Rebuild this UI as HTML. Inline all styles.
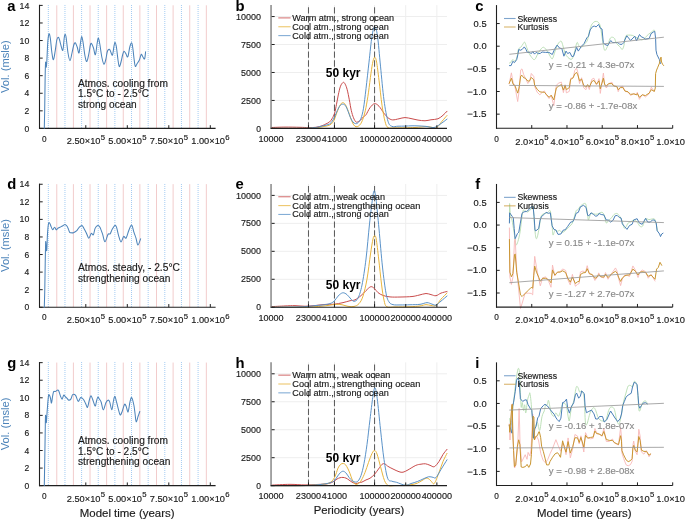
<!DOCTYPE html>
<html><head><meta charset="utf-8"><title>Figure</title>
<style>
html,body{margin:0;padding:0;background:#fff;width:685px;height:519px;overflow:hidden}
svg{display:block;will-change:transform}
text{font-family:"Liberation Sans", sans-serif}
</style></head>
<body>
<svg width="685" height="519" viewBox="0 0 685 519">
<rect width="685" height="519" fill="#fff"/>
<line x1="56.78" y1="5.3" x2="56.78" y2="128.4" stroke="#f2cccc" stroke-width="1"/>
<line x1="73.4" y1="5.3" x2="73.4" y2="128.4" stroke="#f2cccc" stroke-width="1"/>
<line x1="90.02" y1="5.3" x2="90.02" y2="128.4" stroke="#f2cccc" stroke-width="1"/>
<line x1="106.63" y1="5.3" x2="106.63" y2="128.4" stroke="#f2cccc" stroke-width="1"/>
<line x1="123.25" y1="5.3" x2="123.25" y2="128.4" stroke="#f2cccc" stroke-width="1"/>
<line x1="139.87" y1="5.3" x2="139.87" y2="128.4" stroke="#f2cccc" stroke-width="1"/>
<line x1="156.49" y1="5.3" x2="156.49" y2="128.4" stroke="#f2cccc" stroke-width="1"/>
<line x1="173.11" y1="5.3" x2="173.11" y2="128.4" stroke="#f2cccc" stroke-width="1"/>
<line x1="189.72" y1="5.3" x2="189.72" y2="128.4" stroke="#f2cccc" stroke-width="1"/>
<line x1="206.34" y1="5.3" x2="206.34" y2="128.4" stroke="#f2cccc" stroke-width="1"/>
<line x1="48.32" y1="5" x2="48.32" y2="128.4" stroke="#a4ccf2" stroke-width="1" stroke-dasharray="1 1"/>
<line x1="64.96" y1="5" x2="64.96" y2="128.4" stroke="#a4ccf2" stroke-width="1" stroke-dasharray="1 1"/>
<line x1="81.6" y1="5" x2="81.6" y2="128.4" stroke="#a4ccf2" stroke-width="1" stroke-dasharray="1 1"/>
<line x1="98.24" y1="5" x2="98.24" y2="128.4" stroke="#a4ccf2" stroke-width="1" stroke-dasharray="1 1"/>
<line x1="114.88" y1="5" x2="114.88" y2="128.4" stroke="#a4ccf2" stroke-width="1" stroke-dasharray="1 1"/>
<line x1="131.52" y1="5" x2="131.52" y2="128.4" stroke="#a4ccf2" stroke-width="1" stroke-dasharray="1 1"/>
<line x1="148.16" y1="5" x2="148.16" y2="128.4" stroke="#a4ccf2" stroke-width="1" stroke-dasharray="1 1"/>
<line x1="164.8" y1="5" x2="164.8" y2="128.4" stroke="#a4ccf2" stroke-width="1" stroke-dasharray="1 1"/>
<line x1="181.44" y1="5" x2="181.44" y2="128.4" stroke="#a4ccf2" stroke-width="1" stroke-dasharray="1 1"/>
<line x1="198.08" y1="5" x2="198.08" y2="128.4" stroke="#a4ccf2" stroke-width="1" stroke-dasharray="1 1"/>
<line x1="39.5" y1="4.8" x2="39.5" y2="128.9" stroke="#1f1f1f" stroke-width="1.1"/>
<line x1="39" y1="128.4" x2="215.6" y2="128.4" stroke="#1f1f1f" stroke-width="1.1"/>
<line x1="39.5" y1="128.4" x2="42.7" y2="128.4" stroke="#1f1f1f" stroke-width="1"/>
<text x="29.3" y="131.5" font-size="9" text-anchor="end" fill="#1a1a1a" textLength="4.75" lengthAdjust="spacingAndGlyphs" stroke="#1a1a1a" stroke-width="0.15">0</text>
<line x1="39.5" y1="110.83" x2="42.7" y2="110.83" stroke="#1f1f1f" stroke-width="1"/>
<text x="29.3" y="113.93" font-size="9" text-anchor="end" fill="#1a1a1a" textLength="4.75" lengthAdjust="spacingAndGlyphs" stroke="#1a1a1a" stroke-width="0.15">2</text>
<line x1="39.5" y1="93.26" x2="42.7" y2="93.26" stroke="#1f1f1f" stroke-width="1"/>
<text x="29.3" y="96.36" font-size="9" text-anchor="end" fill="#1a1a1a" textLength="4.75" lengthAdjust="spacingAndGlyphs" stroke="#1a1a1a" stroke-width="0.15">4</text>
<line x1="39.5" y1="75.68" x2="42.7" y2="75.68" stroke="#1f1f1f" stroke-width="1"/>
<text x="29.3" y="78.78" font-size="9" text-anchor="end" fill="#1a1a1a" textLength="4.75" lengthAdjust="spacingAndGlyphs" stroke="#1a1a1a" stroke-width="0.15">6</text>
<line x1="39.5" y1="58.11" x2="42.7" y2="58.11" stroke="#1f1f1f" stroke-width="1"/>
<text x="29.3" y="61.21" font-size="9" text-anchor="end" fill="#1a1a1a" textLength="4.75" lengthAdjust="spacingAndGlyphs" stroke="#1a1a1a" stroke-width="0.15">8</text>
<line x1="39.5" y1="40.54" x2="42.7" y2="40.54" stroke="#1f1f1f" stroke-width="1"/>
<text x="29.3" y="43.64" font-size="9" text-anchor="end" fill="#1a1a1a" textLength="9.8" lengthAdjust="spacingAndGlyphs" stroke="#1a1a1a" stroke-width="0.15">10</text>
<line x1="39.5" y1="22.97" x2="42.7" y2="22.97" stroke="#1f1f1f" stroke-width="1"/>
<text x="29.3" y="26.07" font-size="9" text-anchor="end" fill="#1a1a1a" textLength="9.8" lengthAdjust="spacingAndGlyphs" stroke="#1a1a1a" stroke-width="0.15">12</text>
<line x1="39.5" y1="5.4" x2="42.7" y2="5.4" stroke="#1f1f1f" stroke-width="1"/>
<text x="29.3" y="8.5" font-size="9" text-anchor="end" fill="#1a1a1a" textLength="9.8" lengthAdjust="spacingAndGlyphs" stroke="#1a1a1a" stroke-width="0.15">14</text>
<line x1="85.8" y1="128.4" x2="85.8" y2="125.2" stroke="#1f1f1f" stroke-width="1"/>
<line x1="127.3" y1="128.4" x2="127.3" y2="125.2" stroke="#1f1f1f" stroke-width="1"/>
<line x1="168.8" y1="128.4" x2="168.8" y2="125.2" stroke="#1f1f1f" stroke-width="1"/>
<line x1="210.3" y1="128.4" x2="210.3" y2="125.2" stroke="#1f1f1f" stroke-width="1"/>
<text x="44.3" y="141.6" font-size="9" text-anchor="middle" fill="#1a1a1a" textLength="4.6" lengthAdjust="spacingAndGlyphs" stroke="#1a1a1a" stroke-width="0.15">0</text>
<text x="66.75" y="144.3" font-size="9" fill="#1a1a1a" textLength="33.7" lengthAdjust="spacingAndGlyphs" stroke="#1a1a1a" stroke-width="0.15">2.50×10</text>
<text x="100.75" y="139.8" font-size="7.2" fill="#1a1a1a" textLength="4.3" lengthAdjust="spacingAndGlyphs" stroke="#1a1a1a" stroke-width="0.15">5</text>
<text x="108.25" y="144.3" font-size="9" fill="#1a1a1a" textLength="33.7" lengthAdjust="spacingAndGlyphs" stroke="#1a1a1a" stroke-width="0.15">5.00×10</text>
<text x="142.25" y="139.8" font-size="7.2" fill="#1a1a1a" textLength="4.3" lengthAdjust="spacingAndGlyphs" stroke="#1a1a1a" stroke-width="0.15">5</text>
<text x="149.75" y="144.3" font-size="9" fill="#1a1a1a" textLength="33.7" lengthAdjust="spacingAndGlyphs" stroke="#1a1a1a" stroke-width="0.15">7.50×10</text>
<text x="183.75" y="139.8" font-size="7.2" fill="#1a1a1a" textLength="4.3" lengthAdjust="spacingAndGlyphs" stroke="#1a1a1a" stroke-width="0.15">5</text>
<text x="191.25" y="144.3" font-size="9" fill="#1a1a1a" textLength="33.7" lengthAdjust="spacingAndGlyphs" stroke="#1a1a1a" stroke-width="0.15">1.00×10</text>
<text x="225.25" y="139.8" font-size="7.2" fill="#1a1a1a" textLength="4.3" lengthAdjust="spacingAndGlyphs" stroke="#1a1a1a" stroke-width="0.15">6</text>
<text transform="translate(8.6,66.7) rotate(-90)" font-size="10.6" text-anchor="middle" fill="#4d84ba" textLength="52.8" lengthAdjust="spacingAndGlyphs">Vol. (msle)</text>
<path d="M44.3,128.3C44.37,125.25 44.57,118.05 44.7,110C44.83,101.95 44.97,87.75 45.1,80C45.23,72.25 45.37,66.23 45.5,63.5C45.63,60.77 45.77,62.98 45.9,63.6C46.03,64.22 46.13,67.8 46.3,67.2C46.47,66.6 46.65,64.2 46.9,60C47.15,55.8 47.45,46.35 47.8,42C48.15,37.65 48.58,34.57 49,33.9C49.42,33.23 49.83,34.98 50.3,38C50.77,41.02 51.28,48.37 51.8,52C52.32,55.63 52.83,59.97 53.4,59.8C53.97,59.63 54.63,54.3 55.2,51C55.77,47.7 56.27,42.28 56.8,40C57.33,37.72 57.93,37.3 58.4,37.3C58.87,37.3 59.25,38.93 59.6,40C59.95,41.07 59.97,41.97 60.5,43.7C61.03,45.43 62.18,51.35 62.8,50.4C63.42,49.45 63.82,40.68 64.2,38C64.58,35.32 64.77,34.3 65.1,34.3C65.43,34.3 65.72,34.88 66.2,38C66.68,41.12 67.37,49.23 68,53C68.63,56.77 69.33,60.6 70,60.6C70.67,60.6 71.37,55.6 72,53C72.63,50.4 73.25,46.7 73.8,45C74.35,43.3 74.73,42.47 75.3,42.8C75.87,43.13 76.58,45.3 77.2,47C77.82,48.7 78.43,53.83 79,53C79.57,52.17 80.15,44.75 80.6,42C81.05,39.25 81.3,36.5 81.7,36.5C82.1,36.5 82.45,38.75 83,42C83.55,45.25 84.37,52.75 85,56C85.63,59.25 86.17,61.83 86.8,61.5C87.43,61.17 88.2,56.75 88.8,54C89.4,51.25 89.93,46.73 90.4,45C90.87,43.27 91.08,43.1 91.6,43.6C92.12,44.1 92.87,46.15 93.5,48C94.13,49.85 94.78,55.53 95.4,54.7C96.02,53.87 96.7,45.77 97.2,43C97.7,40.23 97.97,37.93 98.4,38.1C98.83,38.27 99.23,40.85 99.8,44C100.37,47.15 101.12,53.63 101.8,57C102.48,60.37 103.23,63.78 103.9,64.2C104.57,64.62 105.25,61.53 105.8,59.5C106.35,57.47 106.73,53.67 107.2,52C107.67,50.33 108.13,49.83 108.6,49.5C109.07,49.17 109.37,49.07 110,50C110.63,50.93 111.73,55.77 112.4,55.1C113.07,54.43 113.55,48.12 114,46C114.45,43.88 114.7,42.23 115.1,42.4C115.5,42.57 115.92,44.07 116.4,47C116.88,49.93 117.52,56.73 118,60C118.48,63.27 118.8,66.27 119.3,66.6C119.8,66.93 120.45,63.93 121,62C121.55,60.07 122.1,56.78 122.6,55C123.1,53.22 123.47,51.55 124,51.3C124.53,51.05 125.17,52.58 125.8,53.5C126.43,54.42 127.13,57.88 127.8,56.8C128.47,55.72 129.17,49.33 129.8,47C130.43,44.67 131.1,42.63 131.6,42.8C132.1,42.97 132.37,45.13 132.8,48C133.23,50.87 133.78,56.93 134.2,60C134.62,63.07 134.8,65.82 135.3,66.4C135.8,66.98 136.5,64.6 137.2,63.5C137.9,62.4 138.83,61.33 139.5,59.8C140.17,58.27 140.65,54.8 141.2,54.3C141.75,53.8 142.23,56.03 142.8,56.8C143.37,57.57 144.13,59.75 144.6,58.9C145.07,58.05 145.43,52.9 145.6,51.7" fill="none" stroke="#4d84ba" stroke-width="1.05" stroke-linejoin="round" stroke-linecap="round"/>
<text x="78" y="86.6" font-size="10" fill="#1a1a1a" textLength="90" lengthAdjust="spacingAndGlyphs" stroke="#1a1a1a" stroke-width="0.15">Atmos. cooling from</text>
<text x="78" y="97.3" font-size="10" fill="#1a1a1a" textLength="71" lengthAdjust="spacingAndGlyphs" stroke="#1a1a1a" stroke-width="0.15">1.5°C to - 2.5°C</text>
<text x="78" y="108" font-size="10" fill="#1a1a1a" textLength="58.7" lengthAdjust="spacingAndGlyphs" stroke="#1a1a1a" stroke-width="0.15">strong ocean</text>
<line x1="56.78" y1="184.15" x2="56.78" y2="307.25" stroke="#f2cccc" stroke-width="1"/>
<line x1="73.4" y1="184.15" x2="73.4" y2="307.25" stroke="#f2cccc" stroke-width="1"/>
<line x1="90.02" y1="184.15" x2="90.02" y2="307.25" stroke="#f2cccc" stroke-width="1"/>
<line x1="106.63" y1="184.15" x2="106.63" y2="307.25" stroke="#f2cccc" stroke-width="1"/>
<line x1="123.25" y1="184.15" x2="123.25" y2="307.25" stroke="#f2cccc" stroke-width="1"/>
<line x1="139.87" y1="184.15" x2="139.87" y2="307.25" stroke="#f2cccc" stroke-width="1"/>
<line x1="156.49" y1="184.15" x2="156.49" y2="307.25" stroke="#f2cccc" stroke-width="1"/>
<line x1="173.11" y1="184.15" x2="173.11" y2="307.25" stroke="#f2cccc" stroke-width="1"/>
<line x1="189.72" y1="184.15" x2="189.72" y2="307.25" stroke="#f2cccc" stroke-width="1"/>
<line x1="206.34" y1="184.15" x2="206.34" y2="307.25" stroke="#f2cccc" stroke-width="1"/>
<line x1="48.32" y1="184" x2="48.32" y2="307.25" stroke="#a4ccf2" stroke-width="1" stroke-dasharray="1 1"/>
<line x1="64.96" y1="184" x2="64.96" y2="307.25" stroke="#a4ccf2" stroke-width="1" stroke-dasharray="1 1"/>
<line x1="81.6" y1="184" x2="81.6" y2="307.25" stroke="#a4ccf2" stroke-width="1" stroke-dasharray="1 1"/>
<line x1="98.24" y1="184" x2="98.24" y2="307.25" stroke="#a4ccf2" stroke-width="1" stroke-dasharray="1 1"/>
<line x1="114.88" y1="184" x2="114.88" y2="307.25" stroke="#a4ccf2" stroke-width="1" stroke-dasharray="1 1"/>
<line x1="131.52" y1="184" x2="131.52" y2="307.25" stroke="#a4ccf2" stroke-width="1" stroke-dasharray="1 1"/>
<line x1="148.16" y1="184" x2="148.16" y2="307.25" stroke="#a4ccf2" stroke-width="1" stroke-dasharray="1 1"/>
<line x1="164.8" y1="184" x2="164.8" y2="307.25" stroke="#a4ccf2" stroke-width="1" stroke-dasharray="1 1"/>
<line x1="181.44" y1="184" x2="181.44" y2="307.25" stroke="#a4ccf2" stroke-width="1" stroke-dasharray="1 1"/>
<line x1="198.08" y1="184" x2="198.08" y2="307.25" stroke="#a4ccf2" stroke-width="1" stroke-dasharray="1 1"/>
<line x1="39.5" y1="183.65" x2="39.5" y2="307.75" stroke="#1f1f1f" stroke-width="1.1"/>
<line x1="39" y1="307.25" x2="215.6" y2="307.25" stroke="#1f1f1f" stroke-width="1.1"/>
<line x1="39.5" y1="307.25" x2="42.7" y2="307.25" stroke="#1f1f1f" stroke-width="1"/>
<text x="29.3" y="310.35" font-size="9" text-anchor="end" fill="#1a1a1a" textLength="4.75" lengthAdjust="spacingAndGlyphs" stroke="#1a1a1a" stroke-width="0.15">0</text>
<line x1="39.5" y1="289.68" x2="42.7" y2="289.68" stroke="#1f1f1f" stroke-width="1"/>
<text x="29.3" y="292.78" font-size="9" text-anchor="end" fill="#1a1a1a" textLength="4.75" lengthAdjust="spacingAndGlyphs" stroke="#1a1a1a" stroke-width="0.15">2</text>
<line x1="39.5" y1="272.11" x2="42.7" y2="272.11" stroke="#1f1f1f" stroke-width="1"/>
<text x="29.3" y="275.21" font-size="9" text-anchor="end" fill="#1a1a1a" textLength="4.75" lengthAdjust="spacingAndGlyphs" stroke="#1a1a1a" stroke-width="0.15">4</text>
<line x1="39.5" y1="254.53" x2="42.7" y2="254.53" stroke="#1f1f1f" stroke-width="1"/>
<text x="29.3" y="257.63" font-size="9" text-anchor="end" fill="#1a1a1a" textLength="4.75" lengthAdjust="spacingAndGlyphs" stroke="#1a1a1a" stroke-width="0.15">6</text>
<line x1="39.5" y1="236.96" x2="42.7" y2="236.96" stroke="#1f1f1f" stroke-width="1"/>
<text x="29.3" y="240.06" font-size="9" text-anchor="end" fill="#1a1a1a" textLength="4.75" lengthAdjust="spacingAndGlyphs" stroke="#1a1a1a" stroke-width="0.15">8</text>
<line x1="39.5" y1="219.39" x2="42.7" y2="219.39" stroke="#1f1f1f" stroke-width="1"/>
<text x="29.3" y="222.49" font-size="9" text-anchor="end" fill="#1a1a1a" textLength="9.8" lengthAdjust="spacingAndGlyphs" stroke="#1a1a1a" stroke-width="0.15">10</text>
<line x1="39.5" y1="201.82" x2="42.7" y2="201.82" stroke="#1f1f1f" stroke-width="1"/>
<text x="29.3" y="204.92" font-size="9" text-anchor="end" fill="#1a1a1a" textLength="9.8" lengthAdjust="spacingAndGlyphs" stroke="#1a1a1a" stroke-width="0.15">12</text>
<line x1="39.5" y1="184.25" x2="42.7" y2="184.25" stroke="#1f1f1f" stroke-width="1"/>
<text x="29.3" y="187.35" font-size="9" text-anchor="end" fill="#1a1a1a" textLength="9.8" lengthAdjust="spacingAndGlyphs" stroke="#1a1a1a" stroke-width="0.15">14</text>
<line x1="85.8" y1="307.25" x2="85.8" y2="304.05" stroke="#1f1f1f" stroke-width="1"/>
<line x1="127.3" y1="307.25" x2="127.3" y2="304.05" stroke="#1f1f1f" stroke-width="1"/>
<line x1="168.8" y1="307.25" x2="168.8" y2="304.05" stroke="#1f1f1f" stroke-width="1"/>
<line x1="210.3" y1="307.25" x2="210.3" y2="304.05" stroke="#1f1f1f" stroke-width="1"/>
<text x="44.3" y="320.45" font-size="9" text-anchor="middle" fill="#1a1a1a" textLength="4.6" lengthAdjust="spacingAndGlyphs" stroke="#1a1a1a" stroke-width="0.15">0</text>
<text x="66.75" y="323.15" font-size="9" fill="#1a1a1a" textLength="33.7" lengthAdjust="spacingAndGlyphs" stroke="#1a1a1a" stroke-width="0.15">2.50×10</text>
<text x="100.75" y="318.65" font-size="7.2" fill="#1a1a1a" textLength="4.3" lengthAdjust="spacingAndGlyphs" stroke="#1a1a1a" stroke-width="0.15">5</text>
<text x="108.25" y="323.15" font-size="9" fill="#1a1a1a" textLength="33.7" lengthAdjust="spacingAndGlyphs" stroke="#1a1a1a" stroke-width="0.15">5.00×10</text>
<text x="142.25" y="318.65" font-size="7.2" fill="#1a1a1a" textLength="4.3" lengthAdjust="spacingAndGlyphs" stroke="#1a1a1a" stroke-width="0.15">5</text>
<text x="149.75" y="323.15" font-size="9" fill="#1a1a1a" textLength="33.7" lengthAdjust="spacingAndGlyphs" stroke="#1a1a1a" stroke-width="0.15">7.50×10</text>
<text x="183.75" y="318.65" font-size="7.2" fill="#1a1a1a" textLength="4.3" lengthAdjust="spacingAndGlyphs" stroke="#1a1a1a" stroke-width="0.15">5</text>
<text x="191.25" y="323.15" font-size="9" fill="#1a1a1a" textLength="33.7" lengthAdjust="spacingAndGlyphs" stroke="#1a1a1a" stroke-width="0.15">1.00×10</text>
<text x="225.25" y="318.65" font-size="7.2" fill="#1a1a1a" textLength="4.3" lengthAdjust="spacingAndGlyphs" stroke="#1a1a1a" stroke-width="0.15">6</text>
<text transform="translate(8.6,245.55) rotate(-90)" font-size="10.6" text-anchor="middle" fill="#4d84ba" textLength="52.8" lengthAdjust="spacingAndGlyphs">Vol. (msle)</text>
<path d="M44.3,307.15C44.38,304.1 44.65,296.07 44.8,288.85C44.95,281.63 45.07,271.35 45.2,263.85C45.33,256.35 45.5,247.43 45.6,243.85C45.7,240.27 45.7,241.68 45.8,242.35C45.9,243.02 46.03,246.6 46.2,247.85C46.37,249.1 46.58,252.18 46.8,249.85C47.02,247.52 47.22,238.2 47.5,233.85C47.78,229.5 48.12,225.52 48.5,223.75C48.88,221.98 49.3,222.73 49.75,223.25C50.2,223.77 50.71,225.78 51.2,226.85C51.69,227.92 52.13,229.6 52.7,229.65C53.27,229.7 54,227.12 54.6,227.15C55.2,227.18 55.7,229.72 56.3,229.85C56.9,229.98 57.38,228.48 58.2,227.95C59.02,227.42 60.32,227.08 61.2,226.65C62.08,226.22 62.87,225.7 63.5,225.35C64.13,225 64.4,224.4 65,224.55C65.6,224.7 66.52,225.45 67.1,226.25C67.68,227.05 68.07,228.33 68.5,229.35C68.93,230.37 69.2,231.77 69.7,232.35C70.2,232.93 70.87,232.8 71.5,232.85C72.13,232.9 72.67,232.97 73.5,232.65C74.33,232.33 75.58,231.8 76.5,230.95C77.42,230.1 78.08,228.47 79,227.55C79.92,226.63 81.15,225.23 82,225.45C82.85,225.67 83.4,227.65 84.1,228.85C84.8,230.05 85.42,231.1 86.2,232.65C86.98,234.2 87.95,238.02 88.8,238.15C89.65,238.28 90.53,234.02 91.3,233.45C92.07,232.88 92.77,235.6 93.4,234.75C94.03,233.9 94.37,229.9 95.1,228.35C95.83,226.8 97,225.65 97.8,225.45C98.6,225.25 99.12,225.75 99.9,227.15C100.68,228.55 101.65,231.42 102.5,233.85C103.35,236.28 104.08,241.67 105,241.75C105.92,241.83 107.15,235.67 108,234.35C108.85,233.03 109.4,234.7 110.1,233.85C110.8,233 111.42,230.65 112.2,229.25C112.98,227.85 114.08,225.8 114.8,225.45C115.52,225.1 115.87,225.47 116.5,227.15C117.13,228.83 117.85,233.08 118.6,235.55C119.35,238.02 120.15,241.8 121,241.95C121.85,242.1 122.85,237.08 123.7,236.45C124.55,235.82 125.25,239.13 126.1,238.15C126.95,237.17 127.88,232.75 128.8,230.55C129.72,228.35 130.75,224.68 131.6,224.95C132.45,225.22 133.17,229.95 133.9,232.15C134.63,234.35 135.33,236 136,238.15C136.67,240.3 137.13,244.93 137.9,245.05C138.67,245.17 140.15,239.88 140.6,238.85" fill="none" stroke="#4d84ba" stroke-width="1.05" stroke-linejoin="round" stroke-linecap="round"/>
<text x="78" y="270.85" font-size="10" fill="#1a1a1a" textLength="101.9" lengthAdjust="spacingAndGlyphs" stroke="#1a1a1a" stroke-width="0.15">Atmos. steady, - 2.5°C</text>
<text x="78" y="281.55" font-size="10" fill="#1a1a1a" textLength="92.4" lengthAdjust="spacingAndGlyphs" stroke="#1a1a1a" stroke-width="0.15">strengthening ocean</text>
<line x1="56.78" y1="362.55" x2="56.78" y2="485.65" stroke="#f2cccc" stroke-width="1"/>
<line x1="73.4" y1="362.55" x2="73.4" y2="485.65" stroke="#f2cccc" stroke-width="1"/>
<line x1="90.02" y1="362.55" x2="90.02" y2="485.65" stroke="#f2cccc" stroke-width="1"/>
<line x1="106.63" y1="362.55" x2="106.63" y2="485.65" stroke="#f2cccc" stroke-width="1"/>
<line x1="123.25" y1="362.55" x2="123.25" y2="485.65" stroke="#f2cccc" stroke-width="1"/>
<line x1="139.87" y1="362.55" x2="139.87" y2="485.65" stroke="#f2cccc" stroke-width="1"/>
<line x1="156.49" y1="362.55" x2="156.49" y2="485.65" stroke="#f2cccc" stroke-width="1"/>
<line x1="173.11" y1="362.55" x2="173.11" y2="485.65" stroke="#f2cccc" stroke-width="1"/>
<line x1="189.72" y1="362.55" x2="189.72" y2="485.65" stroke="#f2cccc" stroke-width="1"/>
<line x1="206.34" y1="362.55" x2="206.34" y2="485.65" stroke="#f2cccc" stroke-width="1"/>
<line x1="48.32" y1="362" x2="48.32" y2="485.65" stroke="#a4ccf2" stroke-width="1" stroke-dasharray="1 1"/>
<line x1="64.96" y1="362" x2="64.96" y2="485.65" stroke="#a4ccf2" stroke-width="1" stroke-dasharray="1 1"/>
<line x1="81.6" y1="362" x2="81.6" y2="485.65" stroke="#a4ccf2" stroke-width="1" stroke-dasharray="1 1"/>
<line x1="98.24" y1="362" x2="98.24" y2="485.65" stroke="#a4ccf2" stroke-width="1" stroke-dasharray="1 1"/>
<line x1="114.88" y1="362" x2="114.88" y2="485.65" stroke="#a4ccf2" stroke-width="1" stroke-dasharray="1 1"/>
<line x1="131.52" y1="362" x2="131.52" y2="485.65" stroke="#a4ccf2" stroke-width="1" stroke-dasharray="1 1"/>
<line x1="148.16" y1="362" x2="148.16" y2="485.65" stroke="#a4ccf2" stroke-width="1" stroke-dasharray="1 1"/>
<line x1="164.8" y1="362" x2="164.8" y2="485.65" stroke="#a4ccf2" stroke-width="1" stroke-dasharray="1 1"/>
<line x1="181.44" y1="362" x2="181.44" y2="485.65" stroke="#a4ccf2" stroke-width="1" stroke-dasharray="1 1"/>
<line x1="198.08" y1="362" x2="198.08" y2="485.65" stroke="#a4ccf2" stroke-width="1" stroke-dasharray="1 1"/>
<line x1="39.5" y1="362.05" x2="39.5" y2="486.15" stroke="#1f1f1f" stroke-width="1.1"/>
<line x1="39" y1="485.65" x2="215.6" y2="485.65" stroke="#1f1f1f" stroke-width="1.1"/>
<line x1="39.5" y1="485.65" x2="42.7" y2="485.65" stroke="#1f1f1f" stroke-width="1"/>
<text x="29.3" y="488.75" font-size="9" text-anchor="end" fill="#1a1a1a" textLength="4.75" lengthAdjust="spacingAndGlyphs" stroke="#1a1a1a" stroke-width="0.15">0</text>
<line x1="39.5" y1="468.08" x2="42.7" y2="468.08" stroke="#1f1f1f" stroke-width="1"/>
<text x="29.3" y="471.18" font-size="9" text-anchor="end" fill="#1a1a1a" textLength="4.75" lengthAdjust="spacingAndGlyphs" stroke="#1a1a1a" stroke-width="0.15">2</text>
<line x1="39.5" y1="450.51" x2="42.7" y2="450.51" stroke="#1f1f1f" stroke-width="1"/>
<text x="29.3" y="453.61" font-size="9" text-anchor="end" fill="#1a1a1a" textLength="4.75" lengthAdjust="spacingAndGlyphs" stroke="#1a1a1a" stroke-width="0.15">4</text>
<line x1="39.5" y1="432.93" x2="42.7" y2="432.93" stroke="#1f1f1f" stroke-width="1"/>
<text x="29.3" y="436.03" font-size="9" text-anchor="end" fill="#1a1a1a" textLength="4.75" lengthAdjust="spacingAndGlyphs" stroke="#1a1a1a" stroke-width="0.15">6</text>
<line x1="39.5" y1="415.36" x2="42.7" y2="415.36" stroke="#1f1f1f" stroke-width="1"/>
<text x="29.3" y="418.46" font-size="9" text-anchor="end" fill="#1a1a1a" textLength="4.75" lengthAdjust="spacingAndGlyphs" stroke="#1a1a1a" stroke-width="0.15">8</text>
<line x1="39.5" y1="397.79" x2="42.7" y2="397.79" stroke="#1f1f1f" stroke-width="1"/>
<text x="29.3" y="400.89" font-size="9" text-anchor="end" fill="#1a1a1a" textLength="9.8" lengthAdjust="spacingAndGlyphs" stroke="#1a1a1a" stroke-width="0.15">10</text>
<line x1="39.5" y1="380.22" x2="42.7" y2="380.22" stroke="#1f1f1f" stroke-width="1"/>
<text x="29.3" y="383.32" font-size="9" text-anchor="end" fill="#1a1a1a" textLength="9.8" lengthAdjust="spacingAndGlyphs" stroke="#1a1a1a" stroke-width="0.15">12</text>
<line x1="39.5" y1="362.65" x2="42.7" y2="362.65" stroke="#1f1f1f" stroke-width="1"/>
<text x="29.3" y="365.75" font-size="9" text-anchor="end" fill="#1a1a1a" textLength="9.8" lengthAdjust="spacingAndGlyphs" stroke="#1a1a1a" stroke-width="0.15">14</text>
<line x1="85.8" y1="485.65" x2="85.8" y2="482.45" stroke="#1f1f1f" stroke-width="1"/>
<line x1="127.3" y1="485.65" x2="127.3" y2="482.45" stroke="#1f1f1f" stroke-width="1"/>
<line x1="168.8" y1="485.65" x2="168.8" y2="482.45" stroke="#1f1f1f" stroke-width="1"/>
<line x1="210.3" y1="485.65" x2="210.3" y2="482.45" stroke="#1f1f1f" stroke-width="1"/>
<text x="44.3" y="498.85" font-size="9" text-anchor="middle" fill="#1a1a1a" textLength="4.6" lengthAdjust="spacingAndGlyphs" stroke="#1a1a1a" stroke-width="0.15">0</text>
<text x="66.75" y="501.55" font-size="9" fill="#1a1a1a" textLength="33.7" lengthAdjust="spacingAndGlyphs" stroke="#1a1a1a" stroke-width="0.15">2.50×10</text>
<text x="100.75" y="497.05" font-size="7.2" fill="#1a1a1a" textLength="4.3" lengthAdjust="spacingAndGlyphs" stroke="#1a1a1a" stroke-width="0.15">5</text>
<text x="108.25" y="501.55" font-size="9" fill="#1a1a1a" textLength="33.7" lengthAdjust="spacingAndGlyphs" stroke="#1a1a1a" stroke-width="0.15">5.00×10</text>
<text x="142.25" y="497.05" font-size="7.2" fill="#1a1a1a" textLength="4.3" lengthAdjust="spacingAndGlyphs" stroke="#1a1a1a" stroke-width="0.15">5</text>
<text x="149.75" y="501.55" font-size="9" fill="#1a1a1a" textLength="33.7" lengthAdjust="spacingAndGlyphs" stroke="#1a1a1a" stroke-width="0.15">7.50×10</text>
<text x="183.75" y="497.05" font-size="7.2" fill="#1a1a1a" textLength="4.3" lengthAdjust="spacingAndGlyphs" stroke="#1a1a1a" stroke-width="0.15">5</text>
<text x="191.25" y="501.55" font-size="9" fill="#1a1a1a" textLength="33.7" lengthAdjust="spacingAndGlyphs" stroke="#1a1a1a" stroke-width="0.15">1.00×10</text>
<text x="225.25" y="497.05" font-size="7.2" fill="#1a1a1a" textLength="4.3" lengthAdjust="spacingAndGlyphs" stroke="#1a1a1a" stroke-width="0.15">6</text>
<text transform="translate(8.6,423.95) rotate(-90)" font-size="10.6" text-anchor="middle" fill="#4d84ba" textLength="52.8" lengthAdjust="spacingAndGlyphs">Vol. (msle)</text>
<path d="M44.3,485.55C44.38,480.83 44.65,466.13 44.8,457.25C44.95,448.37 45.08,439.15 45.2,432.25C45.32,425.35 45.37,418.02 45.5,415.85C45.63,413.68 45.85,418.2 46,419.25C46.15,420.3 46.18,423.82 46.4,422.15C46.62,420.48 46.95,413.63 47.3,409.25C47.65,404.87 48.13,398.15 48.5,395.85C48.87,393.55 49.17,395.05 49.5,395.45C49.83,395.85 50.17,396.98 50.5,398.25C50.83,399.52 51.15,403.38 51.5,403.05C51.85,402.72 52.25,398.15 52.6,396.25C52.95,394.35 53.15,392.45 53.6,391.65C54.05,390.85 54.67,391.7 55.3,391.45C55.93,391.2 56.83,390.27 57.4,390.15C57.97,390.03 58.2,389.8 58.7,390.75C59.2,391.7 59.83,394.43 60.4,395.85C60.97,397.27 61.55,399.37 62.1,399.25C62.65,399.13 63.15,395.57 63.7,395.15C64.25,394.73 64.83,396.2 65.4,396.75C65.97,397.3 66.53,397.88 67.1,398.45C67.67,399.02 68.15,400.08 68.8,400.15C69.45,400.22 70.35,399.77 71,398.85C71.65,397.93 71.93,395.22 72.7,394.65C73.47,394.08 74.68,394.33 75.6,395.45C76.52,396.57 77.35,401 78.2,401.35C79.05,401.7 79.85,397.9 80.7,397.55C81.55,397.2 82.5,398.3 83.3,399.25C84.1,400.2 84.8,401.9 85.5,403.25C86.2,404.6 86.87,407.85 87.5,407.35C88.13,406.85 88.73,402.17 89.3,400.25C89.87,398.33 90.35,396.02 90.9,395.85C91.45,395.68 91.9,397.55 92.6,399.25C93.3,400.95 94.45,405.72 95.1,406.05C95.75,406.38 96.05,402.73 96.5,401.25C96.95,399.77 97.3,397.48 97.8,397.15C98.3,396.82 98.93,398.4 99.5,399.25C100.07,400.1 100.57,400.48 101.2,402.25C101.83,404.02 102.52,409.78 103.3,409.85C104.08,409.92 105.12,404.27 105.9,402.65C106.68,401.03 107.37,400.28 108,400.15C108.63,400.02 109.07,400.23 109.7,401.85C110.33,403.47 111.18,409.95 111.8,409.85C112.42,409.75 112.9,403.5 113.4,401.25C113.9,399 114.28,396.25 114.8,396.35C115.32,396.45 115.93,399.82 116.5,401.85C117.07,403.88 117.6,406.37 118.2,408.55C118.8,410.73 119.47,414.38 120.1,414.95C120.73,415.52 121.27,413.72 122,411.95C122.73,410.18 123.8,405.27 124.5,404.35C125.2,403.43 125.6,405.2 126.2,406.45C126.8,407.7 127.47,412.62 128.1,411.85C128.73,411.08 129.4,404.23 130,401.85C130.6,399.47 131.05,396.98 131.7,397.55C132.35,398.12 133.35,402.63 133.9,405.25C134.45,407.87 134.62,410.5 135,413.25C135.38,416 135.68,421.25 136.2,421.75C136.72,422.25 137.5,417.95 138.1,416.25C138.7,414.55 139.52,412.33 139.8,411.55" fill="none" stroke="#4d84ba" stroke-width="1.05" stroke-linejoin="round" stroke-linecap="round"/>
<text x="78" y="443.85" font-size="10" fill="#1a1a1a" textLength="90" lengthAdjust="spacingAndGlyphs" stroke="#1a1a1a" stroke-width="0.15">Atmos. cooling from</text>
<text x="78" y="454.55" font-size="10" fill="#1a1a1a" textLength="71" lengthAdjust="spacingAndGlyphs" stroke="#1a1a1a" stroke-width="0.15">1.5°C to - 2.5°C</text>
<text x="78" y="465.25" font-size="10" fill="#1a1a1a" textLength="92.4" lengthAdjust="spacingAndGlyphs" stroke="#1a1a1a" stroke-width="0.15">strengthening ocean</text>
<line x1="271.05" y1="100.44" x2="447" y2="100.44" stroke="#eeeeee" stroke-width="1"/>
<line x1="271.05" y1="72.48" x2="447" y2="72.48" stroke="#eeeeee" stroke-width="1"/>
<line x1="271.05" y1="44.51" x2="447" y2="44.51" stroke="#eeeeee" stroke-width="1"/>
<line x1="271.05" y1="16.55" x2="447" y2="16.55" stroke="#eeeeee" stroke-width="1"/>
<line x1="308.49" y1="5.1" x2="308.49" y2="128.4" stroke="#eeeeee" stroke-width="1"/>
<line x1="334.47" y1="5.1" x2="334.47" y2="128.4" stroke="#eeeeee" stroke-width="1"/>
<line x1="374.55" y1="5.1" x2="374.55" y2="128.4" stroke="#eeeeee" stroke-width="1"/>
<line x1="405.71" y1="5.1" x2="405.71" y2="128.4" stroke="#eeeeee" stroke-width="1"/>
<line x1="436.86" y1="5.1" x2="436.86" y2="128.4" stroke="#eeeeee" stroke-width="1"/>
<path d="M308.49,128.6 V6.6" stroke="#5e5e5e" stroke-width="1.05" stroke-dasharray="6.3 2.55" fill="none"/>
<path d="M334.47,128.6 V6.6" stroke="#5e5e5e" stroke-width="1.05" stroke-dasharray="6.3 2.55" fill="none"/>
<path d="M374.55,128.6 V6.6" stroke="#5e5e5e" stroke-width="1.05" stroke-dasharray="6.3 2.55" fill="none"/>
<path d="M271.1,127.5C273.42,127.43 280.18,127.13 285,127.1C289.82,127.06 296.08,127.21 300,127.3C303.92,127.38 305.83,127.6 308.5,127.6C311.17,127.6 313.75,127.6 316,127.3C318.25,127 320.33,126.36 322,125.79C323.67,125.22 324.75,124.52 326,123.89C327.25,123.25 328.5,122.84 329.5,121.98C330.5,121.13 331.15,120.24 332,118.77C332.85,117.3 333.85,115.58 334.6,113.16C335.35,110.74 335.88,107.28 336.5,104.24C337.12,101.19 337.63,97.92 338.3,94.91C338.97,91.9 339.68,88.28 340.5,86.19C341.32,84.1 342.42,82.71 343.2,82.38C343.98,82.04 344.53,82.96 345.2,84.18C345.87,85.4 346.52,87.11 347.2,89.7C347.88,92.29 348.62,96.25 349.3,99.72C349.98,103.2 350.6,107.54 351.3,110.55C352,113.56 352.72,115.87 353.5,117.77C354.28,119.68 355.17,121.36 356,121.98C356.83,122.6 357.72,121.82 358.5,121.48C359.28,121.15 359.87,120.76 360.7,119.98C361.53,119.19 362.62,117.64 363.5,116.77C364.38,115.9 364.92,116.27 366,114.76C367.08,113.26 368.58,109.6 370,107.74C371.42,105.89 373,103.88 374.5,103.63C376,103.38 377.42,104.64 379,106.24C380.58,107.84 382.5,111.34 384,113.26C385.5,115.18 386.58,116.67 388,117.77C389.42,118.87 390.67,119.71 392.5,119.88C394.33,120.04 396.92,119.16 399,118.77C401.08,118.39 402.83,117.57 405,117.57C407.17,117.57 409.83,118.36 412,118.77C414.17,119.19 415.83,119.74 418,120.08C420.17,120.41 422.83,120.83 425,120.78C427.17,120.73 428.83,120.11 431,119.78C433.17,119.44 436,119.53 438,118.77C440,118.02 441.5,116.52 443,115.26C444.5,114.01 446.33,111.92 447,111.25" fill="none" stroke="#c94b4b" stroke-width="1" stroke-linejoin="round" stroke-linecap="round"/>
<path d="M271.1,128.4C275.92,128.4 293.18,128.45 300,128.4C306.82,128.35 309,128.23 312,128.1C315,127.97 316,127.87 318,127.6C320,127.33 322.08,126.9 324,126.49C325.92,126.09 328.08,125.84 329.5,125.19C330.92,124.54 331.65,123.64 332.5,122.58C333.35,121.53 333.85,120.6 334.6,118.87C335.35,117.15 336.18,114.36 337,112.26C337.82,110.15 338.75,107.74 339.5,106.24C340.25,104.74 340.95,103.82 341.5,103.23C342.05,102.65 342.3,102.7 342.8,102.73C343.3,102.76 343.88,102.76 344.5,103.43C345.12,104.1 345.75,105.1 346.5,106.74C347.25,108.38 348.17,111 349,113.26C349.83,115.52 350.72,118.34 351.5,120.28C352.28,122.22 352.95,123.82 353.7,124.89C354.45,125.96 355.2,126.49 356,126.7C356.8,126.9 357.67,126.66 358.5,126.09C359.33,125.53 360.17,124.76 361,123.29C361.83,121.82 362.67,119.91 363.5,117.27C364.33,114.63 365.17,111.62 366,107.44C366.83,103.27 367.67,97.92 368.5,92.2C369.33,86.49 370.25,78.33 371,73.15C371.75,67.97 372.37,63.76 373,61.12C373.63,58.48 374.2,57.14 374.8,57.31C375.4,57.48 375.9,58.31 376.6,62.12C377.3,65.93 378.1,72.98 379,80.17C379.9,87.36 381,98.39 382,105.24C383,112.09 384,117.55 385,121.28C386,125.01 386.33,126.49 388,127.6C389.67,128.7 392.17,127.87 395,127.9C397.83,127.93 401.67,127.87 405,127.8C408.33,127.73 412.17,127.65 415,127.5C417.83,127.35 419.83,127.05 422,126.9C424.17,126.75 426.17,126.48 428,126.6C429.83,126.71 431.5,127.45 433,127.6C434.5,127.75 435.5,128.55 437,127.5C438.5,126.44 440.33,123.29 442,121.28C443.67,119.28 446.17,116.43 447,115.47" fill="none" stroke="#e8b53c" stroke-width="1" stroke-linejoin="round" stroke-linecap="round"/>
<path d="M271.1,128.4C275.92,128.4 293.18,128.48 300,128.4C306.82,128.32 309,128.12 312,127.9C315,127.68 316,127.48 318,127.1C320,126.71 322.08,126.09 324,125.59C325.92,125.09 328.12,124.84 329.5,124.09C330.88,123.34 331.45,122.3 332.3,121.08C333.15,119.86 333.78,118.49 334.6,116.77C335.42,115.05 336.3,112.59 337.2,110.75C338.1,108.91 339.07,106.84 340,105.74C340.93,104.64 341.88,104.13 342.8,104.13C343.72,104.13 344.6,104.5 345.5,105.74C346.4,106.98 347.37,109.55 348.2,111.55C349.03,113.56 349.7,116.02 350.5,117.77C351.3,119.53 352.17,121.11 353,122.08C353.83,123.05 354.67,123.47 355.5,123.59C356.33,123.7 357.08,123.67 358,122.78C358.92,121.9 360.08,120.7 361,118.27C361.92,115.85 362.67,113.18 363.5,108.25C364.33,103.32 365.08,96.38 366,88.69C366.92,81.01 368,70.9 369,62.12C370,53.35 371.03,41.93 372,36.05C372.97,30.17 373.88,26.83 374.8,26.83C375.72,26.83 376.55,29.5 377.5,36.05C378.45,42.6 379.42,55.44 380.5,66.13C381.58,76.83 382.75,91.03 384,100.22C385.25,109.42 386.67,116.92 388,121.28C389.33,125.64 390.33,125.58 392,126.39C393.67,127.21 395.83,126.24 398,126.19C400.17,126.14 402.67,126.16 405,126.09C407.33,126.03 409.83,125.83 412,125.79C414.17,125.76 415.67,125.79 418,125.89C420.33,125.99 423.33,126.13 426,126.39C428.67,126.66 431.67,127.85 434,127.5C436.33,127.15 437.83,125.68 440,124.29C442.17,122.9 445.83,120.03 447,119.18" fill="none" stroke="#5b93c9" stroke-width="1" stroke-linejoin="round" stroke-linecap="round"/>
<line x1="271.05" y1="5.1" x2="271.05" y2="129" stroke="#8f8f8f" stroke-width="1.6"/>
<line x1="270.75" y1="128.4" x2="447" y2="128.4" stroke="#1f1f1f" stroke-width="1.15"/>
<line x1="271.65" y1="128.4" x2="274.65" y2="128.4" stroke="#1f1f1f" stroke-width="1"/>
<text x="261" y="131.5" font-size="9" text-anchor="end" fill="#1a1a1a" textLength="4.75" lengthAdjust="spacingAndGlyphs" stroke="#1a1a1a" stroke-width="0.15">0</text>
<line x1="271.65" y1="100.44" x2="274.65" y2="100.44" stroke="#1f1f1f" stroke-width="1"/>
<text x="261" y="103.54" font-size="9" text-anchor="end" fill="#1a1a1a" textLength="19.9" lengthAdjust="spacingAndGlyphs" stroke="#1a1a1a" stroke-width="0.15">2500</text>
<line x1="271.65" y1="72.48" x2="274.65" y2="72.48" stroke="#1f1f1f" stroke-width="1"/>
<text x="261" y="75.58" font-size="9" text-anchor="end" fill="#1a1a1a" textLength="19.9" lengthAdjust="spacingAndGlyphs" stroke="#1a1a1a" stroke-width="0.15">5000</text>
<line x1="271.65" y1="44.51" x2="274.65" y2="44.51" stroke="#1f1f1f" stroke-width="1"/>
<text x="261" y="47.61" font-size="9" text-anchor="end" fill="#1a1a1a" textLength="19.9" lengthAdjust="spacingAndGlyphs" stroke="#1a1a1a" stroke-width="0.15">7500</text>
<line x1="271.65" y1="16.55" x2="274.65" y2="16.55" stroke="#1f1f1f" stroke-width="1"/>
<text x="261" y="19.65" font-size="9" text-anchor="end" fill="#1a1a1a" textLength="24.95" lengthAdjust="spacingAndGlyphs" stroke="#1a1a1a" stroke-width="0.15">10000</text>
<text x="271.05" y="141.7" font-size="9" text-anchor="middle" fill="#1a1a1a" textLength="25.2" lengthAdjust="spacingAndGlyphs" stroke="#1a1a1a" stroke-width="0.15">10000</text>
<line x1="308.49" y1="128.4" x2="308.49" y2="125.2" stroke="#1f1f1f" stroke-width="1"/>
<text x="308.49" y="141.7" font-size="9" text-anchor="middle" fill="#1a1a1a" textLength="25.2" lengthAdjust="spacingAndGlyphs" stroke="#1a1a1a" stroke-width="0.15">23000</text>
<line x1="334.47" y1="128.4" x2="334.47" y2="125.2" stroke="#1f1f1f" stroke-width="1"/>
<text x="334.47" y="141.7" font-size="9" text-anchor="middle" fill="#1a1a1a" textLength="25.2" lengthAdjust="spacingAndGlyphs" stroke="#1a1a1a" stroke-width="0.15">41000</text>
<line x1="374.55" y1="128.4" x2="374.55" y2="125.2" stroke="#1f1f1f" stroke-width="1"/>
<text x="374.55" y="141.7" font-size="9" text-anchor="middle" fill="#1a1a1a" textLength="30.3" lengthAdjust="spacingAndGlyphs" stroke="#1a1a1a" stroke-width="0.15">100000</text>
<line x1="405.71" y1="128.4" x2="405.71" y2="125.2" stroke="#1f1f1f" stroke-width="1"/>
<text x="405.71" y="141.7" font-size="9" text-anchor="middle" fill="#1a1a1a" textLength="30.3" lengthAdjust="spacingAndGlyphs" stroke="#1a1a1a" stroke-width="0.15">200000</text>
<line x1="436.86" y1="128.4" x2="436.86" y2="125.2" stroke="#1f1f1f" stroke-width="1"/>
<text x="436.86" y="141.7" font-size="9" text-anchor="middle" fill="#1a1a1a" textLength="30.3" lengthAdjust="spacingAndGlyphs" stroke="#1a1a1a" stroke-width="0.15">400000</text>
<line x1="278.3" y1="17.9" x2="290.6" y2="17.9" stroke="#c94b4b" stroke-width="1.1" opacity="0.75"/>
<text x="292.3" y="20.9" font-size="8.45" fill="#1a1a1a" textLength="101.8" lengthAdjust="spacingAndGlyphs" stroke="#1a1a1a" stroke-width="0.15">Warm atm., strong ocean</text>
<line x1="278.3" y1="26.75" x2="290.6" y2="26.75" stroke="#e8b53c" stroke-width="1.1" opacity="0.75"/>
<text x="292.3" y="29.75" font-size="8.45" fill="#1a1a1a" textLength="96.5" lengthAdjust="spacingAndGlyphs" stroke="#1a1a1a" stroke-width="0.15">Cool atm., strong ocean</text>
<line x1="278.3" y1="35.6" x2="290.6" y2="35.6" stroke="#5b93c9" stroke-width="1.1" opacity="0.75"/>
<text x="292.3" y="38.6" font-size="8.45" fill="#1a1a1a" textLength="96.5" lengthAdjust="spacingAndGlyphs" stroke="#1a1a1a" stroke-width="0.15">Cold atm., strong ocean</text>
<text x="325.8" y="76.6" font-size="12" font-weight="bold" fill="#000" textLength="34.7" lengthAdjust="spacingAndGlyphs">50 kyr</text>
<line x1="271.05" y1="279.29" x2="447" y2="279.29" stroke="#eeeeee" stroke-width="1"/>
<line x1="271.05" y1="251.32" x2="447" y2="251.32" stroke="#eeeeee" stroke-width="1"/>
<line x1="271.05" y1="223.36" x2="447" y2="223.36" stroke="#eeeeee" stroke-width="1"/>
<line x1="271.05" y1="195.4" x2="447" y2="195.4" stroke="#eeeeee" stroke-width="1"/>
<line x1="308.49" y1="183.95" x2="308.49" y2="307.25" stroke="#eeeeee" stroke-width="1"/>
<line x1="334.47" y1="183.95" x2="334.47" y2="307.25" stroke="#eeeeee" stroke-width="1"/>
<line x1="374.55" y1="183.95" x2="374.55" y2="307.25" stroke="#eeeeee" stroke-width="1"/>
<line x1="405.71" y1="183.95" x2="405.71" y2="307.25" stroke="#eeeeee" stroke-width="1"/>
<line x1="436.86" y1="183.95" x2="436.86" y2="307.25" stroke="#eeeeee" stroke-width="1"/>
<path d="M308.49,307.45 V185.45" stroke="#5e5e5e" stroke-width="1.05" stroke-dasharray="6.3 2.55" fill="none"/>
<path d="M334.47,307.45 V185.45" stroke="#5e5e5e" stroke-width="1.05" stroke-dasharray="6.3 2.55" fill="none"/>
<path d="M374.55,307.45 V185.45" stroke="#5e5e5e" stroke-width="1.05" stroke-dasharray="6.3 2.55" fill="none"/>
<path d="M271.1,306.65C273.42,306.53 281.02,306.11 285,305.95C288.98,305.78 291.67,305.6 295,305.65C298.33,305.7 301.67,306.26 305,306.25C308.33,306.23 311.67,305.85 315,305.55C318.33,305.24 321.83,304.66 325,304.44C328.17,304.23 331,304.54 334,304.24C337,303.94 340.33,303.22 343,302.64C345.67,302.05 348,301.2 350,300.73C352,300.26 353.17,300.68 355,299.83C356.83,298.98 359.17,297.16 361,295.62C362.83,294.08 364.37,292.09 366,290.61C367.63,289.12 369.38,287.03 370.8,286.69C372.22,286.36 373.3,287.61 374.5,288.6C375.7,289.59 376.58,291.47 378,292.61C379.42,293.75 381,294.7 383,295.42C385,296.14 387.17,296.65 390,296.92C392.83,297.19 396.33,297.09 400,297.02C403.67,296.96 408.83,296.84 412,296.52C415.17,296.2 416.67,295.62 419,295.12C421.33,294.62 424,293.6 426,293.51C428,293.43 429.33,294.25 431,294.62C432.67,294.98 434.33,295.97 436,295.72C437.67,295.47 439.17,293.81 441,293.11C442.83,292.41 446,291.78 447,291.51" fill="none" stroke="#c94b4b" stroke-width="1" stroke-linejoin="round" stroke-linecap="round"/>
<path d="M271.1,307.25C275.92,307.25 292.68,307.33 300,307.25C307.32,307.17 310.33,307.05 315,306.75C319.67,306.45 324.5,305.85 328,305.45C331.5,305.04 333.67,304.46 336,304.34C338.33,304.23 340,304.41 342,304.74C344,305.08 346,306.06 348,306.35C350,306.63 352.17,306.9 354,306.45C355.83,306 357.5,305.36 359,303.64C360.5,301.92 361.67,300.21 363,296.12C364.33,292.03 365.75,286.09 367,279.07C368.25,272.06 369.5,260.69 370.5,254.01C371.5,247.32 372.33,241.99 373,238.97C373.67,235.94 373.97,235.86 374.5,235.86C375.03,235.86 375.5,235.11 376.2,238.97C376.9,242.83 377.82,251.5 378.7,259.02C379.58,266.54 380.62,277.24 381.5,284.09C382.38,290.94 383.12,296.35 384,300.13C384.88,303.91 384.97,305.61 386.8,306.75C388.63,307.89 391.13,306.95 395,306.95C398.87,306.95 405.83,306.92 410,306.75C414.17,306.58 417.33,306.3 420,305.95C422.67,305.6 424.17,304.73 426,304.64C427.83,304.56 429.33,305.31 431,305.45C432.67,305.58 434.33,306.5 436,305.45C437.67,304.39 439.17,301.18 441,299.13C442.83,297.07 446,294.11 447,293.11" fill="none" stroke="#e8b53c" stroke-width="1" stroke-linejoin="round" stroke-linecap="round"/>
<path d="M271.1,307.25C275.92,307.2 292.68,307.22 300,306.95C307.32,306.68 310.33,306.11 315,305.65C319.67,305.18 324.83,304.86 328,304.14C331.17,303.42 332.33,302.67 334,301.33C335.67,300 336.55,297.54 338,296.12C339.45,294.7 341.2,293.06 342.7,292.81C344.2,292.56 345.62,293.56 347,294.62C348.38,295.67 349.82,298.01 351,299.13C352.18,300.25 352.93,301.5 354.1,301.33C355.27,301.17 356.68,300.83 358,298.13C359.32,295.42 360.67,291.61 362,285.09C363.33,278.57 364.75,269.21 366,259.02C367.25,248.83 368.42,233.95 369.5,223.93C370.58,213.9 371.72,204.39 372.5,198.86C373.28,193.33 373.62,190.74 374.2,190.74C374.78,190.74 375.2,192.49 376,198.86C376.8,205.23 377.92,217.58 379,228.94C380.08,240.3 381.33,256.35 382.5,267.04C383.67,277.74 384.92,287.3 386,293.11C387.08,298.93 387.83,300.01 389,301.94C390.17,303.86 391.17,304.14 393,304.64C394.83,305.14 397.17,304.93 400,304.94C402.83,304.96 406.67,304.84 410,304.74C413.33,304.64 417.17,304.69 420,304.34C422.83,303.99 425,302.67 427,302.64C429,302.6 430.5,303.74 432,304.14C433.5,304.54 434.5,305.55 436,305.04C437.5,304.54 439.17,302.64 441,301.13C442.83,299.63 446,296.87 447,296.02" fill="none" stroke="#5b93c9" stroke-width="1" stroke-linejoin="round" stroke-linecap="round"/>
<line x1="271.05" y1="183.95" x2="271.05" y2="307.85" stroke="#8f8f8f" stroke-width="1.6"/>
<line x1="270.75" y1="307.25" x2="447" y2="307.25" stroke="#1f1f1f" stroke-width="1.15"/>
<line x1="271.65" y1="307.25" x2="274.65" y2="307.25" stroke="#1f1f1f" stroke-width="1"/>
<text x="261" y="310.35" font-size="9" text-anchor="end" fill="#1a1a1a" textLength="4.75" lengthAdjust="spacingAndGlyphs" stroke="#1a1a1a" stroke-width="0.15">0</text>
<line x1="271.65" y1="279.29" x2="274.65" y2="279.29" stroke="#1f1f1f" stroke-width="1"/>
<text x="261" y="282.39" font-size="9" text-anchor="end" fill="#1a1a1a" textLength="19.9" lengthAdjust="spacingAndGlyphs" stroke="#1a1a1a" stroke-width="0.15">2500</text>
<line x1="271.65" y1="251.32" x2="274.65" y2="251.32" stroke="#1f1f1f" stroke-width="1"/>
<text x="261" y="254.42" font-size="9" text-anchor="end" fill="#1a1a1a" textLength="19.9" lengthAdjust="spacingAndGlyphs" stroke="#1a1a1a" stroke-width="0.15">5000</text>
<line x1="271.65" y1="223.36" x2="274.65" y2="223.36" stroke="#1f1f1f" stroke-width="1"/>
<text x="261" y="226.46" font-size="9" text-anchor="end" fill="#1a1a1a" textLength="19.9" lengthAdjust="spacingAndGlyphs" stroke="#1a1a1a" stroke-width="0.15">7500</text>
<line x1="271.65" y1="195.4" x2="274.65" y2="195.4" stroke="#1f1f1f" stroke-width="1"/>
<text x="261" y="198.5" font-size="9" text-anchor="end" fill="#1a1a1a" textLength="24.95" lengthAdjust="spacingAndGlyphs" stroke="#1a1a1a" stroke-width="0.15">10000</text>
<text x="271.05" y="320.55" font-size="9" text-anchor="middle" fill="#1a1a1a" textLength="25.2" lengthAdjust="spacingAndGlyphs" stroke="#1a1a1a" stroke-width="0.15">10000</text>
<line x1="308.49" y1="307.25" x2="308.49" y2="304.05" stroke="#1f1f1f" stroke-width="1"/>
<text x="308.49" y="320.55" font-size="9" text-anchor="middle" fill="#1a1a1a" textLength="25.2" lengthAdjust="spacingAndGlyphs" stroke="#1a1a1a" stroke-width="0.15">23000</text>
<line x1="334.47" y1="307.25" x2="334.47" y2="304.05" stroke="#1f1f1f" stroke-width="1"/>
<text x="334.47" y="320.55" font-size="9" text-anchor="middle" fill="#1a1a1a" textLength="25.2" lengthAdjust="spacingAndGlyphs" stroke="#1a1a1a" stroke-width="0.15">41000</text>
<line x1="374.55" y1="307.25" x2="374.55" y2="304.05" stroke="#1f1f1f" stroke-width="1"/>
<text x="374.55" y="320.55" font-size="9" text-anchor="middle" fill="#1a1a1a" textLength="30.3" lengthAdjust="spacingAndGlyphs" stroke="#1a1a1a" stroke-width="0.15">100000</text>
<line x1="405.71" y1="307.25" x2="405.71" y2="304.05" stroke="#1f1f1f" stroke-width="1"/>
<text x="405.71" y="320.55" font-size="9" text-anchor="middle" fill="#1a1a1a" textLength="30.3" lengthAdjust="spacingAndGlyphs" stroke="#1a1a1a" stroke-width="0.15">200000</text>
<line x1="436.86" y1="307.25" x2="436.86" y2="304.05" stroke="#1f1f1f" stroke-width="1"/>
<text x="436.86" y="320.55" font-size="9" text-anchor="middle" fill="#1a1a1a" textLength="30.3" lengthAdjust="spacingAndGlyphs" stroke="#1a1a1a" stroke-width="0.15">400000</text>
<line x1="278.3" y1="196.75" x2="290.6" y2="196.75" stroke="#c94b4b" stroke-width="1.1" opacity="0.75"/>
<text x="292.3" y="199.75" font-size="8.45" fill="#1a1a1a" textLength="92.7" lengthAdjust="spacingAndGlyphs" stroke="#1a1a1a" stroke-width="0.15">Cold atm., weak ocean</text>
<line x1="278.3" y1="205.6" x2="290.6" y2="205.6" stroke="#e8b53c" stroke-width="1.1" opacity="0.75"/>
<text x="292.3" y="208.6" font-size="8.45" fill="#1a1a1a" textLength="128" lengthAdjust="spacingAndGlyphs" stroke="#1a1a1a" stroke-width="0.15">Cold atm., strengthening ocean</text>
<line x1="278.3" y1="214.45" x2="290.6" y2="214.45" stroke="#5b93c9" stroke-width="1.1" opacity="0.75"/>
<text x="292.3" y="217.45" font-size="8.45" fill="#1a1a1a" textLength="96.5" lengthAdjust="spacingAndGlyphs" stroke="#1a1a1a" stroke-width="0.15">Cold atm., strong ocean</text>
<text x="325.8" y="289.1" font-size="12" font-weight="bold" fill="#000" textLength="34.7" lengthAdjust="spacingAndGlyphs">50 kyr</text>
<line x1="271.05" y1="457.69" x2="447" y2="457.69" stroke="#eeeeee" stroke-width="1"/>
<line x1="271.05" y1="429.72" x2="447" y2="429.72" stroke="#eeeeee" stroke-width="1"/>
<line x1="271.05" y1="401.76" x2="447" y2="401.76" stroke="#eeeeee" stroke-width="1"/>
<line x1="271.05" y1="373.8" x2="447" y2="373.8" stroke="#eeeeee" stroke-width="1"/>
<line x1="308.49" y1="362.35" x2="308.49" y2="485.65" stroke="#eeeeee" stroke-width="1"/>
<line x1="334.47" y1="362.35" x2="334.47" y2="485.65" stroke="#eeeeee" stroke-width="1"/>
<line x1="374.55" y1="362.35" x2="374.55" y2="485.65" stroke="#eeeeee" stroke-width="1"/>
<line x1="405.71" y1="362.35" x2="405.71" y2="485.65" stroke="#eeeeee" stroke-width="1"/>
<line x1="436.86" y1="362.35" x2="436.86" y2="485.65" stroke="#eeeeee" stroke-width="1"/>
<path d="M308.49,485.85 V363.85" stroke="#5e5e5e" stroke-width="1.05" stroke-dasharray="6.3 2.55" fill="none"/>
<path d="M334.47,485.85 V363.85" stroke="#5e5e5e" stroke-width="1.05" stroke-dasharray="6.3 2.55" fill="none"/>
<path d="M374.55,485.85 V363.85" stroke="#5e5e5e" stroke-width="1.05" stroke-dasharray="6.3 2.55" fill="none"/>
<path d="M271.1,485.15C274.25,485.01 284.35,484.38 290,484.35C295.65,484.31 300.33,484.93 305,484.95C309.67,484.96 314.5,484.61 318,484.45C321.5,484.28 324,484.16 326,483.95C328,483.73 328.92,483.44 330,483.14C331.08,482.84 331.73,482.52 332.5,482.14C333.27,481.76 333.85,481.36 334.6,480.84C335.35,480.32 336.1,479.55 337,479.03C337.9,478.51 339,478 340,477.73C341,477.46 342,477.36 343,477.43C344,477.49 345,477.7 346,478.13C347,478.56 348,479.37 349,480.03C350,480.7 350.88,481.56 352,482.14C353.12,482.73 354.53,483.44 355.7,483.54C356.87,483.64 357.95,482.99 359,482.74C360.05,482.49 360.83,482.51 362,482.04C363.17,481.57 364.67,480.57 366,479.93C367.33,479.3 368.58,479.17 370,478.23C371.42,477.29 373.08,475.86 374.5,474.32C375.92,472.78 377.23,470.68 378.5,469.01C379.77,467.33 381.02,465.15 382.1,464.29C383.18,463.44 384.07,463.57 385,463.89C385.93,464.21 386.37,465.35 387.7,466.2C389.03,467.05 391.12,468.09 393,469.01C394.88,469.92 397.33,471.18 399,471.71C400.67,472.25 401.5,472.51 403,472.21C404.5,471.91 405.87,471.04 408,469.91C410.13,468.77 413.63,466.35 415.8,465.4C417.97,464.44 419.38,464.46 421,464.19C422.62,463.93 424,463.61 425.5,463.79C427,463.98 428.53,464.81 430,465.3C431.47,465.78 432.8,467.33 434.3,466.7C435.8,466.06 437.55,463.52 439,461.49C440.45,459.45 441.67,456.49 443,454.47C444.33,452.44 446.33,450.2 447,449.35" fill="none" stroke="#c94b4b" stroke-width="1" stroke-linejoin="round" stroke-linecap="round"/>
<path d="M271.1,485.65C275.92,485.65 293.18,485.73 300,485.65C306.82,485.57 308.67,485.33 312,485.15C315.33,484.96 317.67,484.76 320,484.55C322.33,484.33 324.4,484.13 326,483.85C327.6,483.56 328.55,483.36 329.6,482.84C330.65,482.32 331.47,481.64 332.3,480.74C333.13,479.83 333.9,478.8 334.6,477.43C335.3,476.06 335.93,474.07 336.5,472.51C337.07,470.96 337.33,469.44 338,468.1C338.67,466.77 339.67,465.26 340.5,464.49C341.33,463.72 342.17,463.46 343,463.49C343.83,463.52 344.67,463.79 345.5,464.69C346.33,465.6 347.25,467.43 348,468.91C348.75,470.38 349.35,471.85 350,473.52C350.65,475.19 351.27,477.43 351.9,478.93C352.53,480.44 353.17,481.64 353.8,482.54C354.43,483.44 354.92,484.18 355.7,484.35C356.48,484.51 357.53,484.26 358.5,483.54C359.47,482.83 360.42,481.87 361.5,480.03C362.58,478.2 363.83,475.44 365,472.51C366.17,469.59 367.33,465.66 368.5,462.49C369.67,459.31 371,455.47 372,453.46C373,451.46 373.67,450.37 374.5,450.46C375.33,450.54 376,451.29 377,453.97C378,456.64 379.25,462.07 380.5,466.5C381.75,470.93 383.17,477.36 384.5,480.54C385.83,483.71 386.75,484.71 388.5,485.55C390.25,486.39 392.25,485.58 395,485.55C397.75,485.52 402.17,485.52 405,485.35C407.83,485.18 409.93,484.91 412,484.55C414.07,484.18 415.73,483.81 417.4,483.14C419.07,482.47 420.38,481.39 422,480.54C423.62,479.68 425.6,477.95 427.1,478.03C428.6,478.11 429.8,480.14 431,481.04C432.2,481.94 432.97,484.86 434.3,483.44C435.63,482.02 437.55,476.17 439,472.51C440.45,468.85 441.67,464.68 443,461.49C444.33,458.29 446.33,454.72 447,453.36" fill="none" stroke="#e8b53c" stroke-width="1" stroke-linejoin="round" stroke-linecap="round"/>
<path d="M271.1,485.65C275.92,485.65 293.18,485.73 300,485.65C306.82,485.57 308.67,485.33 312,485.15C315.33,484.96 317.67,484.78 320,484.55C322.33,484.31 324.33,484.05 326,483.74C327.67,483.44 328.92,483.06 330,482.74C331.08,482.42 331.73,482.21 332.5,481.84C333.27,481.47 333.85,481.34 334.6,480.54C335.35,479.73 336.1,478.28 337,477.03C337.9,475.77 339,473.99 340,473.02C341,472.05 342,471.21 343,471.21C344,471.21 345,472 346,473.02C347,474.04 348.02,476.07 349,477.33C349.98,478.58 350.9,479.75 351.9,480.54C352.9,481.32 353.98,481.96 355,482.04C356.02,482.12 357,482.12 358,481.04C359,479.95 360,478.45 361,475.52C362,472.6 363,468.67 364,463.49C365,458.31 366,451.79 367,444.44C368,437.09 369.03,427.23 370,419.37C370.97,411.52 371.98,402.58 372.8,397.31C373.62,392.05 374.17,387.62 374.9,387.79C375.63,387.95 376.27,391.38 377.2,398.32C378.13,405.25 379.37,419.21 380.5,429.4C381.63,439.59 382.8,451.32 384,459.48C385.2,467.64 386.37,474.7 387.7,478.33C389.03,481.96 390.52,480.57 392,481.24C393.48,481.91 394.37,481.67 396.6,482.34C398.83,483.01 403,485.05 405.4,485.25C407.8,485.45 409,484.16 411,483.54C413,482.93 415.4,482.29 417.4,481.54C419.4,480.79 421.12,479.83 423,479.03C424.88,478.23 427.03,477.01 428.7,476.73C430.37,476.44 431.78,477.19 433,477.33C434.22,477.46 434.67,478.83 436,477.53C437.33,476.22 439.17,472.46 441,469.51C442.83,466.55 446,461.4 447,459.78" fill="none" stroke="#5b93c9" stroke-width="1" stroke-linejoin="round" stroke-linecap="round"/>
<line x1="271.05" y1="362.35" x2="271.05" y2="486.25" stroke="#8f8f8f" stroke-width="1.6"/>
<line x1="270.75" y1="485.65" x2="447" y2="485.65" stroke="#1f1f1f" stroke-width="1.15"/>
<line x1="271.65" y1="485.65" x2="274.65" y2="485.65" stroke="#1f1f1f" stroke-width="1"/>
<text x="261" y="488.75" font-size="9" text-anchor="end" fill="#1a1a1a" textLength="4.75" lengthAdjust="spacingAndGlyphs" stroke="#1a1a1a" stroke-width="0.15">0</text>
<line x1="271.65" y1="457.69" x2="274.65" y2="457.69" stroke="#1f1f1f" stroke-width="1"/>
<text x="261" y="460.79" font-size="9" text-anchor="end" fill="#1a1a1a" textLength="19.9" lengthAdjust="spacingAndGlyphs" stroke="#1a1a1a" stroke-width="0.15">2500</text>
<line x1="271.65" y1="429.72" x2="274.65" y2="429.72" stroke="#1f1f1f" stroke-width="1"/>
<text x="261" y="432.82" font-size="9" text-anchor="end" fill="#1a1a1a" textLength="19.9" lengthAdjust="spacingAndGlyphs" stroke="#1a1a1a" stroke-width="0.15">5000</text>
<line x1="271.65" y1="401.76" x2="274.65" y2="401.76" stroke="#1f1f1f" stroke-width="1"/>
<text x="261" y="404.86" font-size="9" text-anchor="end" fill="#1a1a1a" textLength="19.9" lengthAdjust="spacingAndGlyphs" stroke="#1a1a1a" stroke-width="0.15">7500</text>
<line x1="271.65" y1="373.8" x2="274.65" y2="373.8" stroke="#1f1f1f" stroke-width="1"/>
<text x="261" y="376.9" font-size="9" text-anchor="end" fill="#1a1a1a" textLength="24.95" lengthAdjust="spacingAndGlyphs" stroke="#1a1a1a" stroke-width="0.15">10000</text>
<text x="271.05" y="498.95" font-size="9" text-anchor="middle" fill="#1a1a1a" textLength="25.2" lengthAdjust="spacingAndGlyphs" stroke="#1a1a1a" stroke-width="0.15">10000</text>
<line x1="308.49" y1="485.65" x2="308.49" y2="482.45" stroke="#1f1f1f" stroke-width="1"/>
<text x="308.49" y="498.95" font-size="9" text-anchor="middle" fill="#1a1a1a" textLength="25.2" lengthAdjust="spacingAndGlyphs" stroke="#1a1a1a" stroke-width="0.15">23000</text>
<line x1="334.47" y1="485.65" x2="334.47" y2="482.45" stroke="#1f1f1f" stroke-width="1"/>
<text x="334.47" y="498.95" font-size="9" text-anchor="middle" fill="#1a1a1a" textLength="25.2" lengthAdjust="spacingAndGlyphs" stroke="#1a1a1a" stroke-width="0.15">41000</text>
<line x1="374.55" y1="485.65" x2="374.55" y2="482.45" stroke="#1f1f1f" stroke-width="1"/>
<text x="374.55" y="498.95" font-size="9" text-anchor="middle" fill="#1a1a1a" textLength="30.3" lengthAdjust="spacingAndGlyphs" stroke="#1a1a1a" stroke-width="0.15">100000</text>
<line x1="405.71" y1="485.65" x2="405.71" y2="482.45" stroke="#1f1f1f" stroke-width="1"/>
<text x="405.71" y="498.95" font-size="9" text-anchor="middle" fill="#1a1a1a" textLength="30.3" lengthAdjust="spacingAndGlyphs" stroke="#1a1a1a" stroke-width="0.15">200000</text>
<line x1="436.86" y1="485.65" x2="436.86" y2="482.45" stroke="#1f1f1f" stroke-width="1"/>
<text x="436.86" y="498.95" font-size="9" text-anchor="middle" fill="#1a1a1a" textLength="30.3" lengthAdjust="spacingAndGlyphs" stroke="#1a1a1a" stroke-width="0.15">400000</text>
<line x1="278.3" y1="375.15" x2="290.6" y2="375.15" stroke="#c94b4b" stroke-width="1.1" opacity="0.75"/>
<text x="292.3" y="378.15" font-size="8.45" fill="#1a1a1a" textLength="98" lengthAdjust="spacingAndGlyphs" stroke="#1a1a1a" stroke-width="0.15">Warm atm., weak ocean</text>
<line x1="278.3" y1="384" x2="290.6" y2="384" stroke="#e8b53c" stroke-width="1.1" opacity="0.75"/>
<text x="292.3" y="387" font-size="8.45" fill="#1a1a1a" textLength="128" lengthAdjust="spacingAndGlyphs" stroke="#1a1a1a" stroke-width="0.15">Cool atm., strengthening ocean</text>
<line x1="278.3" y1="392.85" x2="290.6" y2="392.85" stroke="#5b93c9" stroke-width="1.1" opacity="0.75"/>
<text x="292.3" y="395.85" font-size="8.45" fill="#1a1a1a" textLength="96.5" lengthAdjust="spacingAndGlyphs" stroke="#1a1a1a" stroke-width="0.15">Cold atm., strong ocean</text>
<text x="325.8" y="462" font-size="12" font-weight="bold" fill="#000" textLength="34.7" lengthAdjust="spacingAndGlyphs">50 kyr</text>
<path d="M509.5,63C509.75,62.83 510.45,62.57 511,62C511.55,61.43 512.13,59.77 512.8,59.6C513.47,59.43 514.3,61.43 515,61C515.7,60.57 516.43,58.93 517,57C517.57,55.07 517.73,51.07 518.4,49.4C519.07,47.73 520.23,47.9 521,47C521.77,46.1 522.38,44.8 523,44C523.62,43.2 524.07,41.58 524.7,42.2C525.33,42.82 526.08,45.9 526.8,47.7C527.52,49.5 528.3,51.53 529,53C529.7,54.47 530.08,55.4 531,56.5C531.92,57.6 533.35,60.07 534.5,59.6C535.65,59.13 536.82,55.47 537.9,53.7C538.98,51.93 540.02,50.07 541,49C541.98,47.93 542.77,46.95 543.8,47.3C544.83,47.65 546.25,49.82 547.2,51.1C548.15,52.38 548.65,53.72 549.5,55C550.35,56.28 551.42,59.3 552.3,58.8C553.18,58.3 554.02,54.13 554.8,52C555.58,49.87 556.3,47.58 557,46C557.7,44.42 558.28,43.28 559,42.5C559.72,41.72 560.63,40.72 561.3,41.3C561.97,41.88 562.38,44.05 563,46C563.62,47.95 564.17,51.08 565,53C565.83,54.92 566.85,56.48 568,57.5C569.15,58.52 570.82,60.02 571.9,59.1C572.98,58.18 573.65,54.75 574.5,52C575.35,49.25 576.25,43.6 577,42.6C577.75,41.6 578.17,45.27 579,46C579.83,46.73 581,47.42 582,47C583,46.58 584.08,44.67 585,43.5C585.92,42.33 586.75,42.08 587.5,40C588.25,37.92 588.83,33.5 589.5,31C590.17,28.5 590.75,26.5 591.5,25C592.25,23.5 593.23,22.6 594,22C594.77,21.4 595.35,21.32 596.1,21.4C596.85,21.48 597.77,21.57 598.5,22.5C599.23,23.43 599.83,24.08 600.5,27C601.17,29.92 601.82,36.13 602.5,40C603.18,43.87 603.78,49.1 604.6,50.2C605.42,51.3 606.52,48.48 607.4,46.6C608.28,44.72 609.13,40.47 609.9,38.9C610.67,37.33 611.22,37.27 612,37.2C612.78,37.13 613.95,37.65 614.6,38.5C615.25,39.35 615.33,41.22 615.9,42.3C616.47,43.38 617.23,44.15 618,45C618.77,45.85 619.8,46.65 620.5,47.4C621.2,48.15 621.63,49.78 622.2,49.5C622.77,49.22 623.33,47.88 623.9,45.7C624.47,43.52 624.82,38.17 625.6,36.4C626.38,34.63 627.4,35.25 628.6,35.1C629.8,34.95 631.73,35.18 632.8,35.5C633.87,35.82 634.15,36.57 635,37C635.85,37.43 636.85,37.63 637.9,38.1C638.95,38.57 640.32,39.67 641.3,39.8C642.28,39.93 642.97,39.47 643.8,38.9C644.63,38.33 645.52,37.17 646.3,36.4C647.08,35.63 647.65,35 648.5,34.3C649.35,33.6 650.48,32.92 651.4,32.2C652.32,31.48 653.43,30.15 654,30C654.57,29.85 654.67,31.08 654.8,31.3" fill="none" stroke="#b5dcb0" stroke-width="0.9" stroke-linejoin="round" stroke-linecap="round"/>
<path d="M509.2,83.77 L511.4,72.84 L513.1,82.59 L514.8,85.99 L516.5,95.06 L517.7,101.56 L519,91.87 L520.7,69.93 L522,68.89 L523.7,74.64 L525.4,78.28 L527.9,83.49 L529.6,81.43 L531.3,73.49 L533.8,76.49 L534.7,86.57 L537.2,92.27 L539.8,94.8 L542.3,92.33 L544.4,90.89 L546.6,95.21 L549.1,98.58 L551.2,95.34 L553.8,105.8 L556.3,85.48 L558.4,83.17 L561.4,82.12 L563.4,92.63 L565.1,84.73 L566.4,92.9 L569.3,91.34 L570.6,78.24 L573.1,77.92 L574.8,70.3 L576.5,68.16 L577.8,72.15 L579.5,83.56 L581.6,77.76 L583.7,87.83 L585.9,89.75 L587.6,85 L589.3,89.56 L591.8,79.29 L593.9,78.22 L596.5,84.8 L599,78.64 L600.3,93.42 L601.3,86.67 L603.4,73.06 L604.7,85.22 L606.4,88 L608.5,83.75 L611.9,82.2 L613.6,85.88 L617,86.56 L618.2,91.68 L620.4,86.77 L622.9,86.28 L625,91.47 L628,91.85 L630.5,95.5 L633.9,93.56 L636.5,94.81 L637.3,92.28 L639.4,99.38 L642.4,94.44 L645.4,96.95 L649.2,93.68 L651.3,87.23 L654.3,91.4" fill="none" stroke="#f7b8b8" stroke-width="0.9" stroke-linejoin="round" stroke-linecap="round"/>
<path d="M509.5,65.6 L511.1,65.6 L512.8,61.3 L514.5,62.6 L516.7,59.6 L517.9,54.5 L518.8,49.4 L520.2,50.3 L522.2,49.4 L524.3,46.9 L526,49.4 L527.3,52.4 L529.8,52.4 L531.1,53.7 L532.8,51.6 L534.5,54.1 L536.2,52.4 L538.7,53.7 L540.4,53.3 L542.1,52 L545.5,52.4 L548.9,52.4 L552.3,54.5 L554.5,49.4 L557.1,45.1 L559.6,48.1 L561.8,48.5 L563.9,56.2 L566,51.1 L567.7,53.6 L569.8,52.4 L571.9,56.6 L573.6,56.2 L576.6,47.3 L578.3,51.1 L581.3,46.4 L584.2,43.4 L586.8,37.9 L588.5,36.2 L590.2,29.9 L592.7,26.5 L594.4,26.1 L596.1,26.9 L598.6,24.4 L600.3,28.2 L602,29 L603.3,42.6 L604.6,44.3 L607.7,45.6 L610.7,40.5 L612.8,42.6 L617.9,42.6 L619.6,44.3 L622.1,44.3 L623.8,42.6 L624.7,40.1 L626.8,35.8 L630.6,40.5 L634.8,36.2 L636.5,40.9 L639.5,34.5 L641.6,37.1 L643.3,37.5 L645,39.2 L649.3,38.4 L651,33.7 L653.9,31.6 L654.8,31.6 L655.6,38.4 L656,50.2 L656.9,54.5 L659.4,59.6 L660.4,63.5" fill="none" stroke="#4a7fb8" stroke-width="1" stroke-linejoin="round" stroke-linecap="round"/>
<path d="M509.2,83.3 L511.4,78.2 L513.1,84.2 L514.8,85.4 L516.5,89.7 L517.7,93.1 L519,88 L520.7,76.1 L522,75.3 L523.7,77.8 L525.4,78.2 L527.9,81.2 L529.6,80.8 L531.3,77.4 L533.8,79.9 L534.7,85.4 L537.2,89.3 L539.8,91.8 L542.3,92.2 L544.4,92.2 L546.6,94.8 L549.1,97.3 L551.2,95.2 L553.8,99.9 L556.3,88 L558.4,86.3 L561.4,84.6 L563.4,90.1 L565.1,85.4 L566.4,89.7 L569.3,87.6 L570.6,79.5 L573.1,77.8 L574.8,74 L576.5,72.3 L577.8,74.8 L579.5,80.8 L581.6,79.1 L583.7,85.4 L585.9,87.1 L587.6,84.6 L589.3,87.1 L591.8,81.6 L593.9,80.4 L596.5,84.2 L599,80.8 L600.3,88.8 L601.3,85.4 L603.4,78.2 L604.7,84.6 L606.4,85.9 L608.5,83.7 L611.9,83.6 L613.6,85.9 L617,86.7 L618.2,89.7 L620.4,87.6 L622.9,87.6 L625,91 L628,91.8 L630.5,94.4 L633.9,93.9 L636.5,94.8 L637.3,93.5 L639.4,97.3 L642.4,94.8 L645.4,95.6 L649.2,93.1 L651.3,89.7 L654.3,91.4 L655.3,88 L655.6,73.6 L656.6,70.1 L657.8,67.2 L659.5,63.1 L660.3,59.7 L661,57.1 L661.5,62 L662.6,64.3 L663.6,65.5" fill="none" stroke="#c99530" stroke-width="1" stroke-linejoin="round" stroke-linecap="round"/>
<line x1="509.3" y1="54.3" x2="663.9" y2="37.2" stroke="#9a9a9a" stroke-width="0.85"/>
<line x1="509.3" y1="85.4" x2="663.9" y2="86.4" stroke="#9a9a9a" stroke-width="0.85"/>
<text x="548.8" y="67.5" font-size="8.8" fill="#8a8a8a" textLength="85.6" lengthAdjust="spacingAndGlyphs" stroke="#8a8a8a" stroke-width="0.15">y = -0.21 + 4.3e-07x</text>
<text x="548.8" y="108.5" font-size="8.8" fill="#8a8a8a" textLength="88.4" lengthAdjust="spacingAndGlyphs" stroke="#8a8a8a" stroke-width="0.15">y = -0.86 + -1.7e-08x</text>
<line x1="496.5" y1="5.1" x2="496.5" y2="128.8" stroke="#1f1f1f" stroke-width="1.1"/>
<line x1="496" y1="128.3" x2="672.6" y2="128.3" stroke="#1f1f1f" stroke-width="1.1"/>
<line x1="496.5" y1="23.55" x2="499.7" y2="23.55" stroke="#1f1f1f" stroke-width="1"/>
<text x="486.6" y="26.65" font-size="9" text-anchor="end" fill="#1a1a1a" textLength="13" lengthAdjust="spacingAndGlyphs" stroke="#1a1a1a" stroke-width="0.15">0.5</text>
<line x1="496.5" y1="46.2" x2="499.7" y2="46.2" stroke="#1f1f1f" stroke-width="1"/>
<text x="486.6" y="49.3" font-size="9" text-anchor="end" fill="#1a1a1a" textLength="13" lengthAdjust="spacingAndGlyphs" stroke="#1a1a1a" stroke-width="0.15">0.0</text>
<line x1="496.5" y1="68.85" x2="499.7" y2="68.85" stroke="#1f1f1f" stroke-width="1"/>
<text x="486.6" y="71.95" font-size="9" text-anchor="end" fill="#1a1a1a" textLength="19.6" lengthAdjust="spacingAndGlyphs" stroke="#1a1a1a" stroke-width="0.15">−0.5</text>
<line x1="496.5" y1="91.5" x2="499.7" y2="91.5" stroke="#1f1f1f" stroke-width="1"/>
<text x="486.6" y="94.6" font-size="9" text-anchor="end" fill="#1a1a1a" textLength="19.6" lengthAdjust="spacingAndGlyphs" stroke="#1a1a1a" stroke-width="0.15">−1.0</text>
<line x1="496.5" y1="114.15" x2="499.7" y2="114.15" stroke="#1f1f1f" stroke-width="1"/>
<text x="486.6" y="117.25" font-size="9" text-anchor="end" fill="#1a1a1a" textLength="19.6" lengthAdjust="spacingAndGlyphs" stroke="#1a1a1a" stroke-width="0.15">−1.5</text>
<line x1="531.74" y1="128.3" x2="531.74" y2="125.1" stroke="#1f1f1f" stroke-width="1"/>
<line x1="566.98" y1="128.3" x2="566.98" y2="125.1" stroke="#1f1f1f" stroke-width="1"/>
<line x1="602.22" y1="128.3" x2="602.22" y2="125.1" stroke="#1f1f1f" stroke-width="1"/>
<line x1="637.46" y1="128.3" x2="637.46" y2="125.1" stroke="#1f1f1f" stroke-width="1"/>
<line x1="672.7" y1="128.3" x2="672.7" y2="125.1" stroke="#1f1f1f" stroke-width="1"/>
<text x="496.5" y="141.5" font-size="9" text-anchor="middle" fill="#1a1a1a" textLength="4.6" lengthAdjust="spacingAndGlyphs" stroke="#1a1a1a" stroke-width="0.15">0</text>
<text x="515.24" y="144.5" font-size="9" fill="#1a1a1a" textLength="28.8" lengthAdjust="spacingAndGlyphs" stroke="#1a1a1a" stroke-width="0.15">2.0×10</text>
<text x="544.24" y="139.9" font-size="7.2" fill="#1a1a1a" textLength="4.3" lengthAdjust="spacingAndGlyphs" stroke="#1a1a1a" stroke-width="0.15">5</text>
<text x="550.48" y="144.5" font-size="9" fill="#1a1a1a" textLength="28.8" lengthAdjust="spacingAndGlyphs" stroke="#1a1a1a" stroke-width="0.15">4.0×10</text>
<text x="579.48" y="139.9" font-size="7.2" fill="#1a1a1a" textLength="4.3" lengthAdjust="spacingAndGlyphs" stroke="#1a1a1a" stroke-width="0.15">5</text>
<text x="585.72" y="144.5" font-size="9" fill="#1a1a1a" textLength="28.8" lengthAdjust="spacingAndGlyphs" stroke="#1a1a1a" stroke-width="0.15">6.0×10</text>
<text x="614.72" y="139.9" font-size="7.2" fill="#1a1a1a" textLength="4.3" lengthAdjust="spacingAndGlyphs" stroke="#1a1a1a" stroke-width="0.15">5</text>
<text x="620.96" y="144.5" font-size="9" fill="#1a1a1a" textLength="28.8" lengthAdjust="spacingAndGlyphs" stroke="#1a1a1a" stroke-width="0.15">8.0×10</text>
<text x="649.96" y="139.9" font-size="7.2" fill="#1a1a1a" textLength="4.3" lengthAdjust="spacingAndGlyphs" stroke="#1a1a1a" stroke-width="0.15">5</text>
<text x="656.2" y="144.5" font-size="9" fill="#1a1a1a" textLength="28.8" lengthAdjust="spacingAndGlyphs" stroke="#1a1a1a" stroke-width="0.15">1.0×10</text>
<text x="685.2" y="139.9" font-size="7.2" fill="#1a1a1a" textLength="4.3" lengthAdjust="spacingAndGlyphs" stroke="#1a1a1a" stroke-width="0.15">6</text>
<line x1="504" y1="18.5" x2="515.6" y2="18.5" stroke="#4a7fb8" stroke-width="1.1" opacity="0.7"/>
<text x="517.4" y="21.5" font-size="8.45" fill="#1a1a1a" textLength="39.6" lengthAdjust="spacingAndGlyphs" stroke="#1a1a1a" stroke-width="0.15">Skewness</text>
<line x1="504" y1="27" x2="515.6" y2="27" stroke="#c99530" stroke-width="1.1" opacity="0.7"/>
<text x="517.4" y="30" font-size="8.45" fill="#1a1a1a" textLength="31.4" lengthAdjust="spacingAndGlyphs" stroke="#1a1a1a" stroke-width="0.15">Kurtosis</text>
<path d="M509.6,222C509.6,218.93 509.45,204.52 509.6,203.6C509.75,202.68 510.1,213.77 510.5,216.5C510.9,219.23 511.42,217.42 512,220C512.58,222.58 513.33,227.95 514,232C514.67,236.05 515.35,242.72 516,244.3C516.65,245.88 517.2,243.67 517.9,241.5C518.6,239.33 519.55,235.22 520.2,231.3C520.85,227.38 521.27,221.55 521.8,218C522.33,214.45 522.78,211.17 523.4,210C524.02,208.83 524.73,210.68 525.5,211C526.27,211.32 526.95,212.37 528,211.9C529.05,211.43 530.93,209.02 531.8,208.2C532.67,207.38 532.75,204.07 533.2,207C533.65,209.93 534.05,220.67 534.5,225.8C534.95,230.93 535.43,235.95 535.9,237.8C536.37,239.65 536.75,238.6 537.3,236.9C537.85,235.2 538.58,231 539.2,227.6C539.82,224.2 540.23,218.82 541,216.5C541.77,214.18 542.72,214.32 543.8,213.7C544.88,213.08 546.42,213.25 547.5,212.8C548.58,212.35 549.53,208.83 550.3,211C551.07,213.17 551.65,221.8 552.1,225.8C552.55,229.8 552.53,234.23 553,235C553.47,235.77 554.12,231.02 554.9,230.4C555.68,229.78 556.93,231.3 557.7,231.3C558.47,231.3 558.82,230.25 559.5,230.4C560.18,230.55 561,232.02 561.8,232.2C562.6,232.38 563.32,232.18 564.3,231.5C565.28,230.82 566.42,229.38 567.7,228.1C568.98,226.82 570.95,225.48 572,223.8C573.05,222.12 573.3,220.18 574,218C574.7,215.82 575.55,212.07 576.2,210.7C576.85,209.33 577.18,210.58 577.9,209.8C578.62,209.02 579.43,207.05 580.5,206C581.57,204.95 583.38,203.67 584.3,203.5C585.22,203.33 585.43,202.88 586,205C586.57,207.12 587.28,213.7 587.7,216.2C588.12,218.7 588.15,220.03 588.5,220C588.85,219.97 589.3,217.13 589.8,216C590.3,214.87 590.8,213.53 591.5,213.2C592.2,212.87 593.02,213.85 594,214C594.98,214.15 596.27,214.37 597.4,214.1C598.53,213.83 599.88,212.62 600.8,212.4C601.72,212.18 602.28,212.2 602.9,212.8C603.52,213.4 603.93,214.3 604.5,216C605.07,217.7 605.63,222.25 606.3,223C606.97,223.75 607.58,221.42 608.5,220.5C609.42,219.58 610.88,218.5 611.8,217.5C612.72,216.5 613.13,215.17 614,214.5C614.87,213.83 616.08,213.25 617,213.5C617.92,213.75 618.68,214.85 619.5,216C620.32,217.15 621.15,218.45 621.9,220.4C622.65,222.35 623.37,226.57 624,227.7C624.63,228.83 625,227.98 625.7,227.2C626.4,226.42 627.42,223.85 628.2,223C628.98,222.15 629.52,222.6 630.4,222.1C631.28,221.6 632.57,220.18 633.5,220C634.43,219.82 635.25,220.43 636,221C636.75,221.57 637.32,222.5 638,223.4C638.68,224.3 639.32,225.97 640.1,226.4C640.88,226.83 641.8,227.23 642.7,226C643.6,224.77 644.45,220.07 645.5,219C646.55,217.93 647.92,219.6 649,219.6C650.08,219.6 651.08,219.1 652,219C652.92,218.9 653.8,218.17 654.5,219C655.2,219.83 655.7,222 656.2,224C656.7,226 657.28,229.83 657.5,231" fill="none" stroke="#b5dcb0" stroke-width="0.9" stroke-linejoin="round" stroke-linecap="round"/>
<path d="M509.4,228 L509.9,276.95 L511.4,284.44 L512.9,277.25 L514.5,240.48 L515.2,239.04 L516.7,269.55 L518.3,286.08 L520.5,308.47 L522.1,303.54 L525.1,293.22 L528.2,293.17 L531.2,293.39 L532.7,294.83 L533.8,271.7 L534.7,256.36 L536.5,267.34 L538.8,279.42 L540.3,285.85 L542.6,277.86 L545.7,276.86 L548.7,281.48 L551,287.28 L552.5,265.05 L554.8,275.82 L557.5,272.16 L560.1,271.75 L562.6,268.96 L565.6,270.4 L567.7,279.5 L570.3,285.03 L572.4,274.36 L575.4,286.22 L577.5,284.4 L579.2,283.45 L580.4,272.05 L583,270.97 L585.5,272.52 L587.2,265.68 L589.4,273.8 L592.3,274.68 L594.9,280.44 L597,277.76 L598.7,272.86 L600.8,276.98 L603.8,277.95 L605.5,272.6 L608,279.26 L610,276.25 L612.5,272.22 L615.5,267.93 L617.2,271.37 L618.5,278.21 L620.6,285.6 L622.3,278.97 L624.8,274.97 L627,275.32 L629.5,276.41 L632.9,265.93 L635.4,270.11 L638,277.5 L639.7,272.45 L642.2,270.02 L645.6,271.64 L648.2,278.26 L651.1,274.38 L655,281.02" fill="none" stroke="#f7b8b8" stroke-width="0.9" stroke-linejoin="round" stroke-linecap="round"/>
<path d="M509.4,223 L509.6,212.8 L511,214.7 L512.3,216.5 L513.3,217.9 L514.2,228.5 L515.1,238.7 L516,236.9 L517.4,233.6 L518.8,232.2 L520.2,223.9 L522,213.3 L523.9,211.9 L526.7,211.4 L529,209.6 L531.3,206.8 L533.1,206.8 L534.1,216.5 L535,230.4 L535.9,230.8 L538.7,228.5 L540.1,220.2 L541.5,216.5 L543.8,214.7 L546.1,212.3 L548.4,213.3 L550.3,212.8 L552.1,225.8 L554,229.5 L555.8,229.9 L558,234.4 L560.9,234 L563.1,230.2 L565.2,229.8 L567.7,226.4 L570.7,222.1 L572.8,221.7 L574.1,219.2 L576.2,213.2 L578.3,212.4 L580.4,206.9 L583.4,205.3 L586,207.3 L587.7,215.4 L588.9,215.8 L591,212.8 L593.6,214.5 L595.7,216.2 L597.4,215.8 L599.1,213.5 L601.2,214.5 L603.8,214.9 L606.3,220 L608.4,220 L610.6,222.1 L613,220.4 L615.1,215.8 L617.2,215.4 L619.3,217.5 L621,217.9 L622.3,223.8 L624.4,226.4 L627,229.4 L629.5,225.5 L632.1,224.3 L633.7,220 L637.1,218.7 L639.3,223 L642.2,224.3 L645.6,218.3 L647.7,222.1 L650.3,222.1 L652.4,220 L654.5,220 L656.2,223 L657.1,230.6 L659.6,234 L660.5,236.6 L661.7,234 L663,233.2" fill="none" stroke="#4a7fb8" stroke-width="1" stroke-linejoin="round" stroke-linecap="round"/>
<path d="M509.4,239.5 L509.7,260 L509.9,272.2 L511.4,276.8 L512.9,273.7 L514.5,254.7 L515.2,253.9 L516.7,272.2 L518.3,281.3 L520.5,295 L522.1,296.5 L525.1,293.5 L528.2,290.4 L531.2,287.4 L532.7,288.2 L533.8,275.2 L534.7,266.1 L536.5,272.2 L538.8,277.5 L540.3,281.3 L542.6,278.3 L545.7,278.3 L548.7,279.8 L551,282.8 L552.5,269.9 L554.8,275.2 L557.5,272.1 L560.1,272.1 L562.6,270.8 L565.6,272.5 L567.7,278 L570.3,282.2 L572.4,277.1 L575.4,283.5 L577.5,281.8 L579.2,281.4 L580.4,274.6 L583,272.9 L585.5,272.5 L587.2,268.7 L589.4,273.7 L592.3,274.6 L594.9,278.4 L597,277.1 L598.7,274.6 L600.8,276.7 L603.8,277.1 L605.5,274.2 L608,277.6 L610,275.4 L612.5,273.3 L615.5,271.2 L617.2,273.3 L618.5,277.1 L620.6,281.4 L622.3,278 L624.8,275.9 L627,275 L629.5,275 L632.9,269.1 L635.4,271.2 L638,275 L639.7,272.5 L642.2,271.6 L645.6,272.5 L648.2,276.3 L651.1,275 L655,279.3 L656.6,269.1 L658.3,267.4 L660,262.3 L661.7,265.3" fill="none" stroke="#c99530" stroke-width="1" stroke-linejoin="round" stroke-linecap="round"/>
<line x1="509.3" y1="217.6" x2="663.9" y2="222.6" stroke="#9a9a9a" stroke-width="0.85"/>
<line x1="509.3" y1="282.7" x2="663.9" y2="270.9" stroke="#9a9a9a" stroke-width="0.85"/>
<text x="548.8" y="246.2" font-size="8.8" fill="#8a8a8a" textLength="85.6" lengthAdjust="spacingAndGlyphs" stroke="#8a8a8a" stroke-width="0.15">y = 0.15 + -1.1e-07x</text>
<text x="548.8" y="296.5" font-size="8.8" fill="#8a8a8a" textLength="85.6" lengthAdjust="spacingAndGlyphs" stroke="#8a8a8a" stroke-width="0.15">y = -1.27 + 2.7e-07x</text>
<line x1="496.5" y1="183.95" x2="496.5" y2="307.65" stroke="#1f1f1f" stroke-width="1.1"/>
<line x1="496" y1="307.15" x2="672.6" y2="307.15" stroke="#1f1f1f" stroke-width="1.1"/>
<line x1="496.5" y1="202.4" x2="499.7" y2="202.4" stroke="#1f1f1f" stroke-width="1"/>
<text x="486.6" y="205.5" font-size="9" text-anchor="end" fill="#1a1a1a" textLength="13" lengthAdjust="spacingAndGlyphs" stroke="#1a1a1a" stroke-width="0.15">0.5</text>
<line x1="496.5" y1="225.05" x2="499.7" y2="225.05" stroke="#1f1f1f" stroke-width="1"/>
<text x="486.6" y="228.15" font-size="9" text-anchor="end" fill="#1a1a1a" textLength="13" lengthAdjust="spacingAndGlyphs" stroke="#1a1a1a" stroke-width="0.15">0.0</text>
<line x1="496.5" y1="247.7" x2="499.7" y2="247.7" stroke="#1f1f1f" stroke-width="1"/>
<text x="486.6" y="250.8" font-size="9" text-anchor="end" fill="#1a1a1a" textLength="19.6" lengthAdjust="spacingAndGlyphs" stroke="#1a1a1a" stroke-width="0.15">−0.5</text>
<line x1="496.5" y1="270.35" x2="499.7" y2="270.35" stroke="#1f1f1f" stroke-width="1"/>
<text x="486.6" y="273.45" font-size="9" text-anchor="end" fill="#1a1a1a" textLength="19.6" lengthAdjust="spacingAndGlyphs" stroke="#1a1a1a" stroke-width="0.15">−1.0</text>
<line x1="496.5" y1="293" x2="499.7" y2="293" stroke="#1f1f1f" stroke-width="1"/>
<text x="486.6" y="296.1" font-size="9" text-anchor="end" fill="#1a1a1a" textLength="19.6" lengthAdjust="spacingAndGlyphs" stroke="#1a1a1a" stroke-width="0.15">−1.5</text>
<line x1="531.74" y1="307.15" x2="531.74" y2="303.95" stroke="#1f1f1f" stroke-width="1"/>
<line x1="566.98" y1="307.15" x2="566.98" y2="303.95" stroke="#1f1f1f" stroke-width="1"/>
<line x1="602.22" y1="307.15" x2="602.22" y2="303.95" stroke="#1f1f1f" stroke-width="1"/>
<line x1="637.46" y1="307.15" x2="637.46" y2="303.95" stroke="#1f1f1f" stroke-width="1"/>
<line x1="672.7" y1="307.15" x2="672.7" y2="303.95" stroke="#1f1f1f" stroke-width="1"/>
<text x="496.5" y="320.35" font-size="9" text-anchor="middle" fill="#1a1a1a" textLength="4.6" lengthAdjust="spacingAndGlyphs" stroke="#1a1a1a" stroke-width="0.15">0</text>
<text x="515.24" y="323.35" font-size="9" fill="#1a1a1a" textLength="28.8" lengthAdjust="spacingAndGlyphs" stroke="#1a1a1a" stroke-width="0.15">2.0×10</text>
<text x="544.24" y="318.75" font-size="7.2" fill="#1a1a1a" textLength="4.3" lengthAdjust="spacingAndGlyphs" stroke="#1a1a1a" stroke-width="0.15">5</text>
<text x="550.48" y="323.35" font-size="9" fill="#1a1a1a" textLength="28.8" lengthAdjust="spacingAndGlyphs" stroke="#1a1a1a" stroke-width="0.15">4.0×10</text>
<text x="579.48" y="318.75" font-size="7.2" fill="#1a1a1a" textLength="4.3" lengthAdjust="spacingAndGlyphs" stroke="#1a1a1a" stroke-width="0.15">5</text>
<text x="585.72" y="323.35" font-size="9" fill="#1a1a1a" textLength="28.8" lengthAdjust="spacingAndGlyphs" stroke="#1a1a1a" stroke-width="0.15">6.0×10</text>
<text x="614.72" y="318.75" font-size="7.2" fill="#1a1a1a" textLength="4.3" lengthAdjust="spacingAndGlyphs" stroke="#1a1a1a" stroke-width="0.15">5</text>
<text x="620.96" y="323.35" font-size="9" fill="#1a1a1a" textLength="28.8" lengthAdjust="spacingAndGlyphs" stroke="#1a1a1a" stroke-width="0.15">8.0×10</text>
<text x="649.96" y="318.75" font-size="7.2" fill="#1a1a1a" textLength="4.3" lengthAdjust="spacingAndGlyphs" stroke="#1a1a1a" stroke-width="0.15">5</text>
<text x="656.2" y="323.35" font-size="9" fill="#1a1a1a" textLength="28.8" lengthAdjust="spacingAndGlyphs" stroke="#1a1a1a" stroke-width="0.15">1.0×10</text>
<text x="685.2" y="318.75" font-size="7.2" fill="#1a1a1a" textLength="4.3" lengthAdjust="spacingAndGlyphs" stroke="#1a1a1a" stroke-width="0.15">6</text>
<line x1="504" y1="197.35" x2="515.6" y2="197.35" stroke="#4a7fb8" stroke-width="1.1" opacity="0.7"/>
<text x="517.4" y="200.35" font-size="8.45" fill="#1a1a1a" textLength="39.6" lengthAdjust="spacingAndGlyphs" stroke="#1a1a1a" stroke-width="0.15">Skewness</text>
<line x1="504" y1="205.85" x2="515.6" y2="205.85" stroke="#c99530" stroke-width="1.1" opacity="0.7"/>
<text x="517.4" y="208.85" font-size="8.45" fill="#1a1a1a" textLength="31.4" lengthAdjust="spacingAndGlyphs" stroke="#1a1a1a" stroke-width="0.15">Kurtosis</text>
<path d="M509.6,418.6C509.83,419.67 510.52,426.43 511,425C511.48,423.57 512,414.5 512.5,410C513,405.5 513.5,402.17 514,398C514.5,393.83 515,389 515.5,385C516,381 516.53,376.77 517,374C517.47,371.23 517.88,368.67 518.3,368.4C518.72,368.13 519.17,368.8 519.5,372.4C519.83,376 520.02,384.22 520.3,390C520.58,395.78 520.87,405.02 521.2,407.1C521.53,409.18 521.92,401.92 522.3,402.5C522.68,403.08 523.1,410.22 523.5,410.6C523.9,410.98 524.32,404.42 524.7,404.8C525.08,405.18 525.33,413.67 525.8,412.9C526.27,412.13 526.92,403.28 527.5,400.2C528.08,397.12 528.9,395.57 529.3,394.4C529.7,393.23 529.62,392.05 529.9,393.2C530.18,394.35 530.62,397.45 531,401.3C531.38,405.15 531.83,411.85 532.2,416.3C532.57,420.75 532.72,426.03 533.2,428C533.68,429.97 534.4,429.05 535.1,428.1C535.8,427.15 536.63,421.92 537.4,422.3C538.17,422.68 538.93,431.35 539.7,430.4C540.47,429.45 541.23,419.87 542,416.6C542.77,413.33 543.72,412.65 544.3,410.8C544.88,408.95 545.02,406.5 545.5,405.5C545.98,404.5 546.72,405.68 547.2,404.8C547.68,403.92 548.02,400.2 548.4,400.2C548.78,400.2 549.03,402.68 549.5,404.8C549.97,406.92 550.52,410.98 551.2,412.9C551.88,414.82 552.82,416.3 553.6,416.3C554.38,416.3 555.13,412.9 555.9,412.9C556.67,412.9 557.52,416.3 558.2,416.3C558.88,416.3 559.32,414.82 560,412.9C560.68,410.98 561.53,406.35 562.3,404.8C563.07,403.25 563.92,403.42 564.6,403.6C565.28,403.78 565.82,403.78 566.4,405.9C566.98,408.02 567.63,413.78 568.1,416.3C568.57,418.82 568.82,421.38 569.2,421C569.58,420.62 570,416.32 570.4,414C570.8,411.68 571.02,409.4 571.6,407.1C572.18,404.8 573.13,403.48 573.9,400.2C574.67,396.92 575.53,389.53 576.2,387.4C576.87,385.27 577.32,386.62 577.9,387.4C578.48,388.18 579.12,391.52 579.7,392.1C580.28,392.68 580.83,390.72 581.4,390.9C581.97,391.08 582.62,391.65 583.1,393.2C583.58,394.75 583.92,395.4 584.3,400.2C584.68,405 584.95,418.03 585.4,422C585.85,425.97 586.22,425.52 587,424C587.78,422.48 589.02,415.62 590.1,412.9C591.18,410.18 592.55,408.08 593.5,407.7C594.45,407.32 595.12,409.17 595.8,410.6C596.48,412.03 596.9,414.73 597.6,416.3C598.3,417.87 599.1,419.22 600,420C600.9,420.78 602,421 603,421C604,421 605.07,421.73 606,420C606.93,418.27 607.78,412.75 608.6,410.6C609.42,408.45 610.03,407.5 610.9,407.1C611.77,406.7 613.03,407.05 613.8,408.2C614.57,409.35 615.03,412.07 615.5,414C615.97,415.93 616.02,418.13 616.6,419.8C617.18,421.47 618.18,424.97 619,424C619.82,423.03 620.75,417.67 621.5,414C622.25,410.33 622.75,405.5 623.5,402C624.25,398.5 625.22,395.67 626,393C626.78,390.33 627.37,387.22 628.2,386C629.03,384.78 630.28,385.53 631,385.7C631.72,385.87 631.97,387.7 632.5,387C633.03,386.3 633.63,382.25 634.2,381.5C634.77,380.75 635.42,381.75 635.9,382.5C636.38,383.25 636.75,383.58 637.1,386C637.45,388.42 637.72,393.17 638,397C638.28,400.83 638.52,406.67 638.8,409C639.08,411.33 639.27,411.5 639.7,411C640.13,410.5 640.83,407.5 641.4,406C641.97,404.5 642.4,402.83 643.1,402C643.8,401.17 644.9,400.75 645.6,401C646.3,401.25 647.02,403.08 647.3,403.5" fill="none" stroke="#b5dcb0" stroke-width="0.9" stroke-linejoin="round" stroke-linecap="round"/>
<path d="M509.3,424 L510,440 L511,420 L512,404 L512.8,430 L513.6,452 L514.5,468 L515.7,466 L517.7,445.5 L518.5,425 L519.1,408.5 L519.6,425 L520,443.2 L521.5,462 L523.5,458.2 L525.2,454.7 L527,459.3 L528.1,452.4 L529.9,455.9 L531,450 L532,430 L532.7,414.2 L533.5,425 L534.5,440 L536.5,436 L538.5,440 L540.8,453.6 L543.2,460.5 L545.5,462.8 L547.8,459.3 L550.1,453.6 L552.4,448.9 L555.9,439.7 L558.2,445.5 L560.5,451.2 L562.8,443.2 L564.3,445.42 L566,454.66 L568.1,437.93 L570.3,457.83 L572.8,448.39 L574.9,434.52 L577.5,436.01 L579.2,443.89 L580.9,435.82 L583.8,452 L585.5,432.65 L587.7,437.64 L590.6,438.79 L593.2,438.26 L594.9,428.48 L596.6,432.77 L599.1,434.14 L602.1,436.29 L603.8,428.2 L606.3,441.41 L609.3,441.48 L612.5,439.06 L614.2,442.63 L616.8,444.43 L618.5,444.9 L620.6,427.65 L621.5,437 L621.9,452.81 L623.6,458.33 L626.1,464.82 L628.2,465.82 L630.4,464.72 L632.1,461.43 L632.9,445.45 L633.7,441.03 L635.4,451.47 L637.1,454.7 L638.8,429.32 L640.1,435.93 L641.4,451.96 L643.9,454.13 L646.5,450.7 L649,456.76 L650.7,454.18" fill="none" stroke="#f7b8b8" stroke-width="0.9" stroke-linejoin="round" stroke-linecap="round"/>
<path d="M509.3,425.5 L510.6,428.9 L511.9,433.2 L512.7,406 L513.6,402.2 L515.3,391.2 L516.5,380.2 L517.8,378.1 L519.1,381 L520.4,398.8 L522.7,401.4 L525,399.9 L526.5,399.9 L528,404.5 L530.5,408.8 L531.8,410.3 L532.7,420.4 L533.5,438.3 L534.8,428.9 L536,426.4 L537.7,417.9 L539,416.2 L540.7,408.6 L543.3,405.6 L545,404.3 L547.5,406 L550,409.4 L552.2,412 L554.3,414.5 L555.5,417 L557.1,419.4 L559.2,421.6 L560.9,418.2 L562.6,402.5 L564.3,402.1 L566.5,399.1 L567.7,408 L569.4,413.1 L571.1,407.1 L573.7,402.9 L575.4,394.8 L576.6,393.1 L578.7,398.2 L580.4,396.1 L581.7,391 L584.3,393.6 L585.1,406.3 L586.4,412.7 L588.9,411.4 L591.5,410.1 L594,413.9 L595.7,419 L597.8,419 L599.5,416.5 L602.5,416.5 L604.2,422 L606.7,419.9 L610.6,411 L612.5,414 L615,418 L617.7,421.6 L620,419 L621.5,414 L622.7,405.6 L624.4,401.4 L626.1,397.1 L628.2,395 L631.2,393.3 L632.5,387 L634.2,382.3 L635.9,383.1 L637.1,384.8 L638,395.4 L638.8,405.6 L639.7,408.2 L641.4,405.6 L643.1,403.1 L645.6,402.7 L647.3,403.9" fill="none" stroke="#4a7fb8" stroke-width="1" stroke-linejoin="round" stroke-linecap="round"/>
<path d="M509.3,424.7 L509.8,432.3 L510.6,422.1 L511.9,405.2 L512.3,404.3 L512.7,428.9 L513.1,440 L513.6,450.4 L514.4,466.6 L515.7,464.9 L517.4,446.2 L518.7,439.8 L519.9,444.5 L521.2,467 L522.9,467.4 L525.4,466.6 L527.1,464.4 L528.8,467.4 L530.5,464 L531.4,454.7 L532.2,438.6 L532.7,425 L533.1,416.2 L533.9,417 L534.4,440 L535.6,436.6 L537.3,435.7 L539,431.5 L539.4,431.8 L540.7,437.7 L541.6,446.2 L543.3,451.3 L545,458.1 L546.6,464.9 L548.8,464.9 L550,461.5 L552.6,457.2 L555.1,453.8 L557.5,452.7 L558.8,454.4 L560.5,457.3 L562.6,440.8 L564.3,447.1 L566,452.2 L568.1,441.6 L570.3,453.1 L572.8,446.3 L574.9,437.8 L577.5,437.8 L579.2,442.5 L580.9,437.4 L583.8,447.1 L585.5,435.3 L587.7,438.2 L590.6,437.4 L593.2,437 L594.9,431 L596.6,433.6 L599.1,434 L602.1,435.7 L603.8,431.5 L606.3,439.5 L609.3,440.4 L612.5,440.4 L614.2,442.5 L616.8,443.7 L618.5,444.6 L620.6,435.7 L621.5,441.2 L621.9,450.5 L623.6,454.8 L626.1,459.9 L628.2,461.6 L630.4,460.7 L632.1,458.6 L632.9,448 L633.7,445.4 L635.4,450.5 L637.1,451.8 L638.8,436.5 L640.1,440.4 L641.4,450.1 L643.9,451.4 L646.5,451.4 L649,455.2 L650.7,453.9" fill="none" stroke="#c99530" stroke-width="1" stroke-linejoin="round" stroke-linecap="round"/>
<line x1="509.3" y1="410.1" x2="663.9" y2="403.3" stroke="#9a9a9a" stroke-width="0.85"/>
<line x1="509.3" y1="447.9" x2="663.9" y2="447.3" stroke="#9a9a9a" stroke-width="0.85"/>
<text x="548.8" y="429.1" font-size="8.8" fill="#8a8a8a" textLength="85.6" lengthAdjust="spacingAndGlyphs" stroke="#8a8a8a" stroke-width="0.15">y = -0.16 + 1.8e-07x</text>
<text x="548.8" y="474.1" font-size="8.8" fill="#8a8a8a" textLength="85.6" lengthAdjust="spacingAndGlyphs" stroke="#8a8a8a" stroke-width="0.15">y = -0.98 + 2.8e-08x</text>
<line x1="496.5" y1="362.35" x2="496.5" y2="486.05" stroke="#1f1f1f" stroke-width="1.1"/>
<line x1="496" y1="485.55" x2="672.6" y2="485.55" stroke="#1f1f1f" stroke-width="1.1"/>
<line x1="496.5" y1="380.8" x2="499.7" y2="380.8" stroke="#1f1f1f" stroke-width="1"/>
<text x="486.6" y="383.9" font-size="9" text-anchor="end" fill="#1a1a1a" textLength="13" lengthAdjust="spacingAndGlyphs" stroke="#1a1a1a" stroke-width="0.15">0.5</text>
<line x1="496.5" y1="403.45" x2="499.7" y2="403.45" stroke="#1f1f1f" stroke-width="1"/>
<text x="486.6" y="406.55" font-size="9" text-anchor="end" fill="#1a1a1a" textLength="13" lengthAdjust="spacingAndGlyphs" stroke="#1a1a1a" stroke-width="0.15">0.0</text>
<line x1="496.5" y1="426.1" x2="499.7" y2="426.1" stroke="#1f1f1f" stroke-width="1"/>
<text x="486.6" y="429.2" font-size="9" text-anchor="end" fill="#1a1a1a" textLength="19.6" lengthAdjust="spacingAndGlyphs" stroke="#1a1a1a" stroke-width="0.15">−0.5</text>
<line x1="496.5" y1="448.75" x2="499.7" y2="448.75" stroke="#1f1f1f" stroke-width="1"/>
<text x="486.6" y="451.85" font-size="9" text-anchor="end" fill="#1a1a1a" textLength="19.6" lengthAdjust="spacingAndGlyphs" stroke="#1a1a1a" stroke-width="0.15">−1.0</text>
<line x1="496.5" y1="471.4" x2="499.7" y2="471.4" stroke="#1f1f1f" stroke-width="1"/>
<text x="486.6" y="474.5" font-size="9" text-anchor="end" fill="#1a1a1a" textLength="19.6" lengthAdjust="spacingAndGlyphs" stroke="#1a1a1a" stroke-width="0.15">−1.5</text>
<line x1="531.74" y1="485.55" x2="531.74" y2="482.35" stroke="#1f1f1f" stroke-width="1"/>
<line x1="566.98" y1="485.55" x2="566.98" y2="482.35" stroke="#1f1f1f" stroke-width="1"/>
<line x1="602.22" y1="485.55" x2="602.22" y2="482.35" stroke="#1f1f1f" stroke-width="1"/>
<line x1="637.46" y1="485.55" x2="637.46" y2="482.35" stroke="#1f1f1f" stroke-width="1"/>
<line x1="672.7" y1="485.55" x2="672.7" y2="482.35" stroke="#1f1f1f" stroke-width="1"/>
<text x="496.5" y="498.75" font-size="9" text-anchor="middle" fill="#1a1a1a" textLength="4.6" lengthAdjust="spacingAndGlyphs" stroke="#1a1a1a" stroke-width="0.15">0</text>
<text x="515.24" y="501.75" font-size="9" fill="#1a1a1a" textLength="28.8" lengthAdjust="spacingAndGlyphs" stroke="#1a1a1a" stroke-width="0.15">2.0×10</text>
<text x="544.24" y="497.15" font-size="7.2" fill="#1a1a1a" textLength="4.3" lengthAdjust="spacingAndGlyphs" stroke="#1a1a1a" stroke-width="0.15">5</text>
<text x="550.48" y="501.75" font-size="9" fill="#1a1a1a" textLength="28.8" lengthAdjust="spacingAndGlyphs" stroke="#1a1a1a" stroke-width="0.15">4.0×10</text>
<text x="579.48" y="497.15" font-size="7.2" fill="#1a1a1a" textLength="4.3" lengthAdjust="spacingAndGlyphs" stroke="#1a1a1a" stroke-width="0.15">5</text>
<text x="585.72" y="501.75" font-size="9" fill="#1a1a1a" textLength="28.8" lengthAdjust="spacingAndGlyphs" stroke="#1a1a1a" stroke-width="0.15">6.0×10</text>
<text x="614.72" y="497.15" font-size="7.2" fill="#1a1a1a" textLength="4.3" lengthAdjust="spacingAndGlyphs" stroke="#1a1a1a" stroke-width="0.15">5</text>
<text x="620.96" y="501.75" font-size="9" fill="#1a1a1a" textLength="28.8" lengthAdjust="spacingAndGlyphs" stroke="#1a1a1a" stroke-width="0.15">8.0×10</text>
<text x="649.96" y="497.15" font-size="7.2" fill="#1a1a1a" textLength="4.3" lengthAdjust="spacingAndGlyphs" stroke="#1a1a1a" stroke-width="0.15">5</text>
<text x="656.2" y="501.75" font-size="9" fill="#1a1a1a" textLength="28.8" lengthAdjust="spacingAndGlyphs" stroke="#1a1a1a" stroke-width="0.15">1.0×10</text>
<text x="685.2" y="497.15" font-size="7.2" fill="#1a1a1a" textLength="4.3" lengthAdjust="spacingAndGlyphs" stroke="#1a1a1a" stroke-width="0.15">6</text>
<line x1="504" y1="375.75" x2="515.6" y2="375.75" stroke="#4a7fb8" stroke-width="1.1" opacity="0.7"/>
<text x="517.4" y="378.75" font-size="8.45" fill="#1a1a1a" textLength="39.6" lengthAdjust="spacingAndGlyphs" stroke="#1a1a1a" stroke-width="0.15">Skewness</text>
<line x1="504" y1="384.25" x2="515.6" y2="384.25" stroke="#c99530" stroke-width="1.1" opacity="0.7"/>
<text x="517.4" y="387.25" font-size="8.45" fill="#1a1a1a" textLength="31.4" lengthAdjust="spacingAndGlyphs" stroke="#1a1a1a" stroke-width="0.15">Kurtosis</text>
<text x="7.2" y="10.6" font-size="14.8" font-weight="bold" fill="#000">a</text>
<text x="235.5" y="10.6" font-size="14.8" font-weight="bold" fill="#000">b</text>
<text x="475.2" y="10.6" font-size="14.8" font-weight="bold" fill="#000">c</text>
<text x="7.2" y="189.45" font-size="14.8" font-weight="bold" fill="#000">d</text>
<text x="235.5" y="189.45" font-size="14.8" font-weight="bold" fill="#000">e</text>
<text x="475.2" y="189.45" font-size="14.8" font-weight="bold" fill="#000">f</text>
<text x="7.2" y="367.85" font-size="14.8" font-weight="bold" fill="#000">g</text>
<text x="235.5" y="367.85" font-size="14.8" font-weight="bold" fill="#000">h</text>
<text x="475.2" y="367.85" font-size="14.8" font-weight="bold" fill="#000">i</text>
<text x="79.8" y="517" font-size="10.4" fill="#1a1a1a" textLength="94.7" lengthAdjust="spacingAndGlyphs" stroke="#1a1a1a" stroke-width="0.15">Model time (years)</text>
<text x="313.7" y="513.5" font-size="10.55" fill="#1a1a1a" textLength="90.5" lengthAdjust="spacingAndGlyphs" stroke="#1a1a1a" stroke-width="0.15">Periodicity (years)</text>
<text x="537" y="517.2" font-size="10.4" fill="#1a1a1a" textLength="94.5" lengthAdjust="spacingAndGlyphs" stroke="#1a1a1a" stroke-width="0.15">Model time (years)</text>
</svg>
</body></html>
